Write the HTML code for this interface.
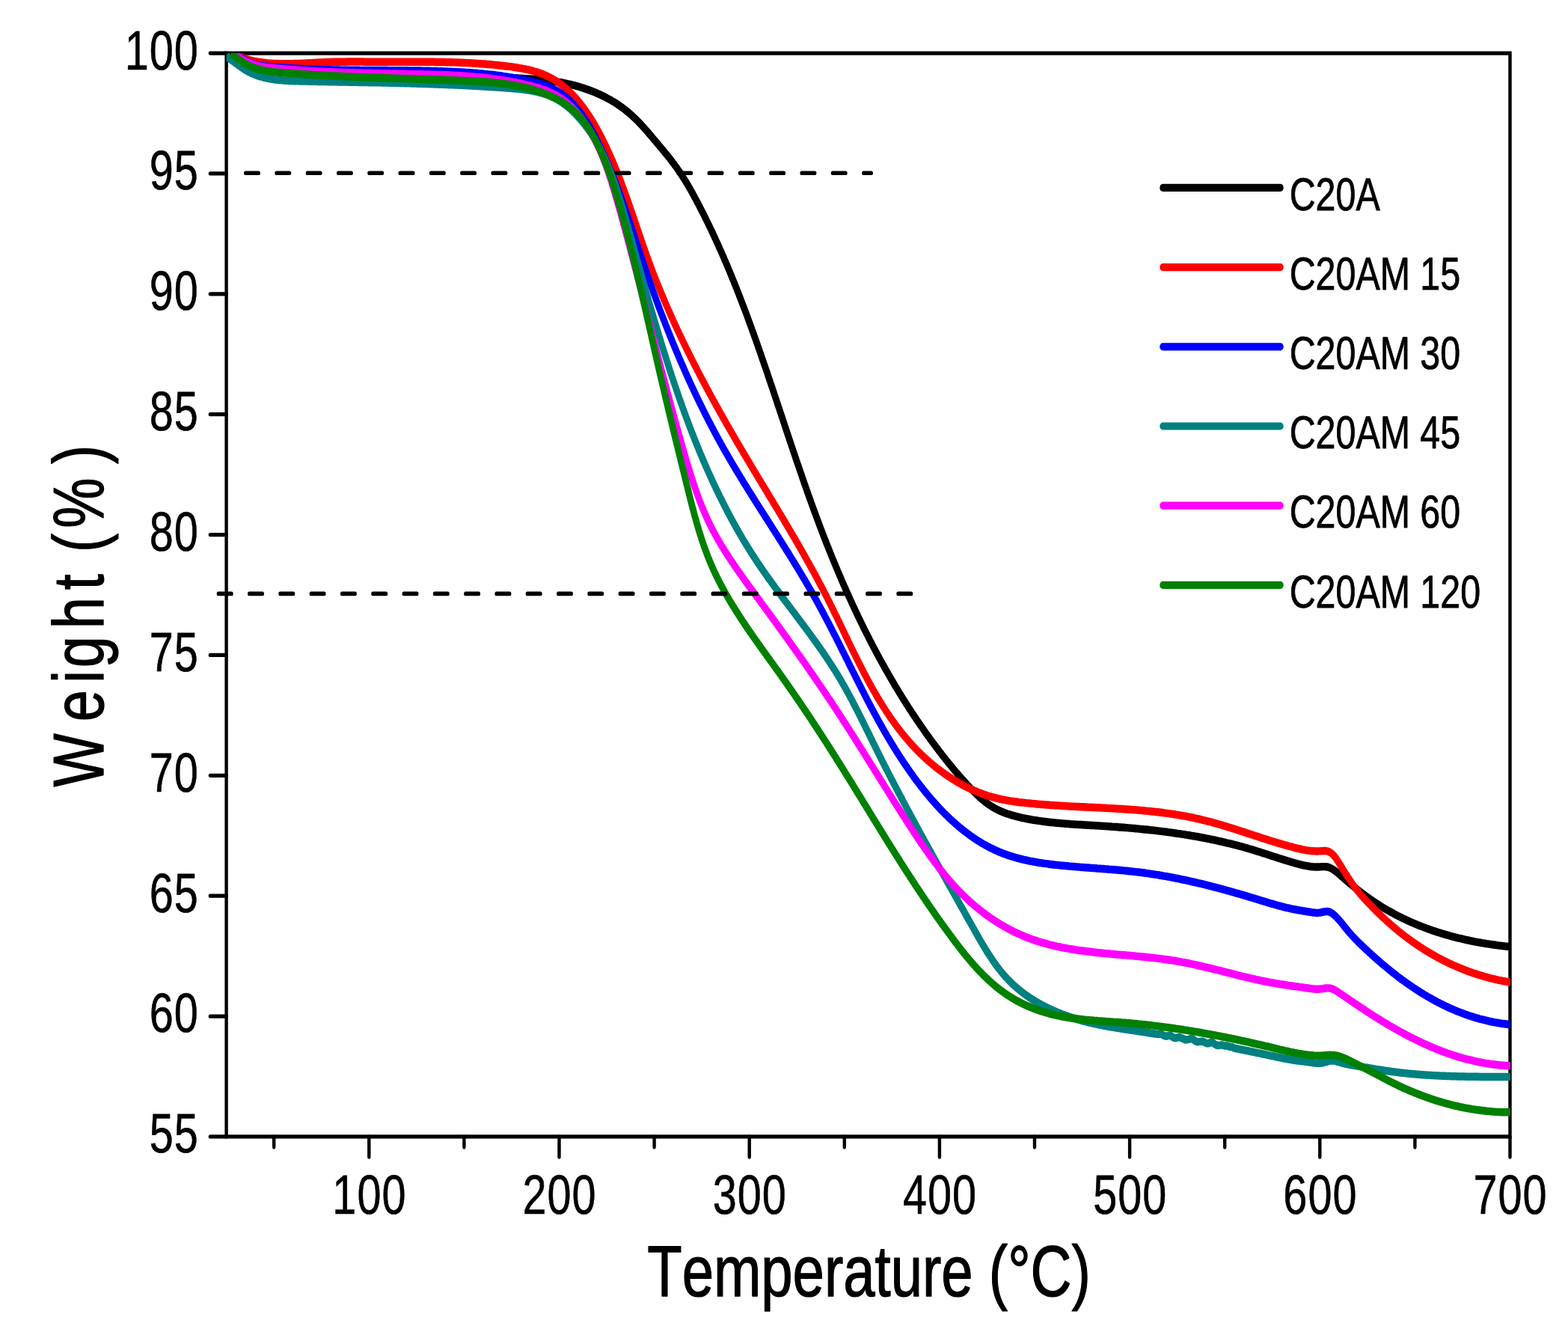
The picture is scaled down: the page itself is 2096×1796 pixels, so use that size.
<!DOCTYPE html>
<html><head><meta charset="utf-8"><title>TGA</title>
<style>html,body{margin:0;padding:0;background:#fff}svg{display:block}</style></head>
<body>
<svg width="2096" height="1796" viewBox="0 0 2096 1796" font-family="'Liberation Sans', sans-serif" fill="#000" style="font-kerning:none" text-rendering="geometricPrecision" stroke="#000" stroke-width="0" stroke-linejoin="round">
<rect width="2096" height="1796" fill="#fff"/>
<defs><clipPath id="plot"><rect x="302.6" y="59.25" width="1716.2" height="1206.50"/></clipPath></defs>
<g transform="scale(1,1.2)" fill="none" stroke="#000" stroke-linecap="round" stroke-width="4.4">
<path d="M302.6,59.25 H2018.5 V1265.75 H302.6 Z" stroke-linejoin="miter" stroke-linecap="butt"/>
<path d="M302.6,1265.75 H280.8 M302.6,1131.69 H280.8 M302.6,997.64 H280.8 M302.6,863.58 H280.8 M302.6,729.53 H280.8 M302.6,595.47 H280.8 M302.6,461.42 H280.8 M302.6,327.36 H280.8 M302.6,193.31 H280.8 M302.6,59.25 H280.8 M493.30,1265.75 V1288.50 M747.50,1265.75 V1288.50 M1001.70,1265.75 V1288.50 M1255.90,1265.75 V1288.50 M1510.10,1265.75 V1288.50 M1764.30,1265.75 V1288.50 M2018.50,1265.75 V1288.50 M366.20,1265.75 V1277.50 M620.40,1265.75 V1277.50 M874.60,1265.75 V1277.50 M1128.80,1265.75 V1277.50 M1383.00,1265.75 V1277.50 M1637.20,1265.75 V1277.50 M1891.40,1265.75 V1277.50"/>
<g clip-path="url(#plot)" stroke-linejoin="round" stroke-linecap="butt" stroke-width="8.7">
<path d="M310.9,59.5 312.6,60.6 314.2,61.6 315.9,62.6 317.6,63.5 319.3,64.5 321,65.3 322.7,66.2 324.5,67 326.2,67.7 328,68.4 329.8,69.1 331.6,69.8 333.4,70.4 335.2,71 337,71.6 338.9,72.1 340.8,72.7 342.6,73.1 344.5,73.6 346.4,74 348.3,74.4 350.2,74.8 352.1,75.2 354.1,75.5 356,75.8 357.9,76.1 359.9,76.4 361.9,76.7 363.8,76.9 365.8,77.1 367.8,77.3 369.8,77.5 371.8,77.7 373.8,77.8 375.8,78 377.8,78.1 379.8,78.2 381.8,78.4 383.8,78.5 385.8,78.5 387.9,78.6 389.9,78.7 391.9,78.8 393.9,78.8 396,78.9 398,79 400,79 402.1,79.1 404.1,79.1 406.1,79.2 408.1,79.2 410.2,79.3 412.2,79.3 414.2,79.3 416.2,79.4 418.3,79.4 420.3,79.5 422.3,79.5 424.3,79.6 426.4,79.6 428.4,79.7 430.4,79.7 432.4,79.8 434.4,79.8 436.4,79.9 438.5,79.9 440.5,80 442.5,80 444.5,80.1 446.5,80.1 448.5,80.2 450.5,80.2 452.5,80.3 454.6,80.3 456.6,80.4 458.6,80.4 460.6,80.5 462.6,80.5 464.6,80.6 466.6,80.6 468.6,80.7 470.6,80.7 472.6,80.8 474.6,80.8 476.6,80.9 478.6,80.9 480.6,81 482.6,81 484.6,81.1 486.6,81.1 488.6,81.2 490.6,81.2 492.6,81.3 494.6,81.3 496.6,81.4 498.6,81.4 500.6,81.5 502.6,81.5 504.6,81.6 506.6,81.6 508.6,81.7 510.6,81.7 512.6,81.8 514.5,81.8 516.5,81.9 518.5,81.9 520.5,82 522.5,82 524.5,82.1 526.5,82.1 528.5,82.2 530.5,82.2 532.5,82.3 534.5,82.3 536.5,82.4 538.4,82.4 540.4,82.5 542.4,82.5 544.4,82.6 546.4,82.7 548.4,82.7 550.4,82.8 552.4,82.8 554.4,82.9 556.3,82.9 558.3,83 560.3,83 562.3,83.1 564.3,83.1 566.3,83.2 568.3,83.3 570.3,83.3 572.3,83.4 574.2,83.4 576.2,83.5 578.2,83.5 580.2,83.6 582.2,83.6 584.2,83.7 586.2,83.8 588.2,83.8 590.2,83.9 592.1,83.9 594.1,84 596.1,84 598.1,84.1 600.1,84.2 602.1,84.2 604.1,84.3 606.1,84.3 608.1,84.4 610.1,84.5 612.1,84.5 614,84.6 616,84.6 618,84.7 620,84.8 622,84.8 624,84.9 626,84.9 628,85 630,85.1 632,85.1 634,85.2 636,85.2 638,85.3 640,85.4 642,85.4 644,85.5 646,85.6 648,85.6 650,85.7 652,85.7 654,85.8 656,85.9 658,85.9 660,86 662,86.1 664,86.1 666,86.2 668,86.3 670,86.3 672,86.4 674,86.5 676,86.5 678,86.6 680,86.7 682,86.7 684,86.8 686,86.9 688,87 690,87 692.1,87.1 694.1,87.2 696.1,87.3 698.1,87.4 700.1,87.5 702.1,87.6 704.1,87.7 706.1,87.8 708.1,87.9 710.1,88 712.1,88.1 714.1,88.2 716.1,88.4 718.1,88.5 720.1,88.7 722.1,88.8 724.1,89 726.1,89.1 728.1,89.3 730.1,89.5 732.1,89.7 734.1,89.9 736,90.1 738,90.4 740,90.6 742,90.8 744,91.1 745.9,91.4 747.9,91.6 749.9,91.9 751.8,92.2 753.8,92.5 755.8,92.9 757.7,93.2 759.7,93.6 761.6,93.9 763.6,94.3 765.5,94.7 767.4,95.1 769.4,95.5 771.3,96 773.2,96.4 775.1,96.9 777.1,97.4 779,97.9 780.9,98.4 782.8,98.9 784.7,99.5 786.6,100 788.4,100.6 790.3,101.2 792.2,101.8 794,102.4 795.9,103.1 797.7,103.7 799.5,104.4 801.4,105.1 803.2,105.8 805,106.5 806.8,107.2 808.6,108 810.3,108.7 812.1,109.5 813.8,110.3 815.6,111.1 817.3,111.9 819,112.8 820.7,113.6 822.4,114.5 824.1,115.4 825.8,116.3 827.4,117.3 829,118.2 830.7,119.2 832.3,120.1 833.9,121.1 835.4,122.1 837,123.2 838.5,124.2 840.1,125.3 841.6,126.3 843.1,127.4 844.6,128.5 846,129.7 847.5,130.8 848.9,132 850.4,133.1 851.8,134.3 853.2,135.5 854.6,136.7 856,137.9 857.3,139.1 858.7,140.4 860.1,141.6 861.4,142.8 862.7,144.1 864.1,145.3 865.4,146.6 866.7,147.9 868,149.2 869.3,150.4 870.6,151.7 871.9,153 873.2,154.3 874.5,155.6 875.8,156.8 877.1,158.1 878.4,159.4 879.7,160.7 881,162 882.3,163.3 883.5,164.5 884.8,165.8 886.1,167.1 887.4,168.4 888.6,169.7 889.9,171 891.2,172.2 892.4,173.5 893.7,174.8 894.9,176.1 896.1,177.4 897.3,178.8 898.6,180.1 899.8,181.4 901,182.7 902.1,184.1 903.3,185.4 904.5,186.7 905.6,188.1 906.7,189.5 907.9,190.8 909,192.2 910.1,193.6 911.2,195 912.3,196.4 913.3,197.8 914.4,199.2 915.5,200.6 916.5,202 917.5,203.4 918.6,204.9 919.6,206.3 920.6,207.7 921.6,209.2 922.6,210.6 923.6,212.1 924.6,213.5 925.6,215 926.5,216.5 927.5,217.9 928.4,219.4 929.4,220.9 930.3,222.3 931.3,223.8 932.2,225.3 933.2,226.8 934.1,228.2 935,229.7 935.9,231.2 936.8,232.7 937.7,234.2 938.7,235.7 939.6,237.2 940.5,238.6 941.4,240.1 942.2,241.6 943.1,243.1 944,244.6 944.9,246.1 945.8,247.6 946.7,249.1 947.5,250.6 948.4,252.1 949.3,253.6 950.1,255.1 951,256.6 951.8,258.1 952.7,259.6 953.5,261.1 954.4,262.6 955.2,264.2 956.1,265.7 956.9,267.2 957.7,268.7 958.5,270.2 959.4,271.7 960.2,273.2 961,274.8 961.8,276.3 962.6,277.8 963.5,279.3 964.3,280.8 965.1,282.4 965.9,283.9 966.7,285.4 967.5,286.9 968.2,288.5 969,290 969.8,291.5 970.6,293 971.4,294.6 972.2,296.1 972.9,297.6 973.7,299.2 974.5,300.7 975.3,302.2 976,303.8 976.8,305.3 977.5,306.8 978.3,308.4 979,309.9 979.8,311.5 980.6,313 981.3,314.5 982,316.1 982.8,317.6 983.5,319.2 984.3,320.7 985,322.3 985.7,323.8 986.5,325.4 987.2,326.9 987.9,328.5 988.6,330 989.4,331.6 990.1,333.1 990.8,334.7 991.5,336.2 992.2,337.8 992.9,339.3 993.7,340.9 994.4,342.4 995.1,344 995.8,345.5 996.5,347.1 997.2,348.6 997.9,350.2 998.6,351.8 999.3,353.3 1000,354.9 1000.6,356.4 1001.3,358 1002,359.6 1002.7,361.1 1003.4,362.7 1004.1,364.3 1004.8,365.8 1005.4,367.4 1006.1,368.9 1006.8,370.5 1007.5,372.1 1008.1,373.6 1008.8,375.2 1009.5,376.8 1010.2,378.3 1010.8,379.9 1011.5,381.5 1012.2,383.1 1012.8,384.6 1013.5,386.2 1014.1,387.8 1014.8,389.3 1015.5,390.9 1016.1,392.5 1016.8,394.1 1017.4,395.6 1018.1,397.2 1018.7,398.8 1019.4,400.4 1020,401.9 1020.7,403.5 1021.3,405.1 1022,406.7 1022.6,408.2 1023.3,409.8 1023.9,411.4 1024.6,413 1025.2,414.5 1025.9,416.1 1026.5,417.7 1027.1,419.3 1027.8,420.8 1028.4,422.4 1029.1,424 1029.7,425.6 1030.3,427.2 1031,428.7 1031.6,430.3 1032.3,431.9 1032.9,433.5 1033.5,435.1 1034.2,436.6 1034.8,438.2 1035.4,439.8 1036.1,441.4 1036.7,443 1037.3,444.5 1038,446.1 1038.6,447.7 1039.2,449.3 1039.9,450.9 1040.5,452.5 1041.1,454 1041.8,455.6 1042.4,457.2 1043,458.8 1043.7,460.4 1044.3,461.9 1044.9,463.5 1045.6,465.1 1046.2,466.7 1046.8,468.3 1047.5,469.9 1048.1,471.4 1048.7,473 1049.3,474.6 1050,476.2 1050.6,477.8 1051.2,479.4 1051.9,480.9 1052.5,482.5 1053.1,484.1 1053.8,485.7 1054.4,487.3 1055,488.8 1055.7,490.4 1056.3,492 1057,493.6 1057.6,495.2 1058.2,496.8 1058.9,498.3 1059.5,499.9 1060.1,501.5 1060.8,503.1 1061.4,504.7 1062.1,506.2 1062.7,507.8 1063.3,509.4 1064,511 1064.6,512.6 1065.3,514.1 1065.9,515.7 1066.6,517.3 1067.2,518.9 1067.9,520.5 1068.5,522 1069.2,523.6 1069.8,525.2 1070.5,526.8 1071.1,528.3 1071.8,529.9 1072.4,531.5 1073.1,533.1 1073.7,534.6 1074.4,536.2 1075,537.8 1075.7,539.4 1076.4,540.9 1077,542.5 1077.7,544.1 1078.4,545.7 1079,547.2 1079.7,548.8 1080.4,550.4 1081,552 1081.7,553.5 1082.4,555.1 1083.1,556.7 1083.7,558.2 1084.4,559.8 1085.1,561.4 1085.8,562.9 1086.5,564.5 1087.1,566.1 1087.8,567.6 1088.5,569.2 1089.2,570.8 1089.9,572.3 1090.6,573.9 1091.3,575.5 1092,577 1092.7,578.6 1093.4,580.2 1094.1,581.7 1094.8,583.3 1095.5,584.9 1096.2,586.4 1096.9,588 1097.6,589.5 1098.3,591.1 1099,592.6 1099.8,594.2 1100.5,595.8 1101.2,597.3 1101.9,598.9 1102.7,600.4 1103.4,602 1104.1,603.5 1104.8,605.1 1105.6,606.6 1106.3,608.2 1107.1,609.7 1107.8,611.3 1108.5,612.8 1109.3,614.4 1110,615.9 1110.8,617.5 1111.5,619 1112.3,620.6 1113,622.1 1113.8,623.7 1114.6,625.2 1115.3,626.7 1116.1,628.3 1116.9,629.8 1117.6,631.4 1118.4,632.9 1119.2,634.4 1119.9,636 1120.7,637.5 1121.5,639 1122.3,640.6 1123.1,642.1 1123.9,643.6 1124.6,645.2 1125.4,646.7 1126.2,648.2 1127,649.8 1127.8,651.3 1128.6,652.8 1129.4,654.3 1130.3,655.9 1131.1,657.4 1131.9,658.9 1132.7,660.4 1133.5,662 1134.3,663.5 1135.2,665 1136,666.5 1136.8,668 1137.6,669.5 1138.5,671.1 1139.3,672.6 1140.1,674.1 1141,675.6 1141.8,677.1 1142.7,678.6 1143.5,680.1 1144.4,681.6 1145.2,683.1 1146.1,684.6 1146.9,686.1 1147.8,687.6 1148.7,689.1 1149.5,690.6 1150.4,692.1 1151.3,693.6 1152.2,695.1 1153,696.6 1153.9,698.1 1154.8,699.6 1155.7,701.1 1156.6,702.6 1157.5,704.1 1158.4,705.6 1159.3,707 1160.2,708.5 1161.1,710 1162,711.5 1162.9,713 1163.8,714.5 1164.7,715.9 1165.7,717.4 1166.6,718.9 1167.5,720.4 1168.4,721.8 1169.4,723.3 1170.3,724.8 1171.2,726.2 1172.2,727.7 1173.1,729.2 1174.1,730.6 1175,732.1 1176,733.6 1176.9,735 1177.9,736.5 1178.9,737.9 1179.8,739.4 1180.8,740.8 1181.8,742.3 1182.7,743.7 1183.7,745.2 1184.7,746.6 1185.7,748.1 1186.7,749.5 1187.7,751 1188.7,752.4 1189.7,753.8 1190.7,755.3 1191.7,756.7 1192.7,758.2 1193.7,759.6 1194.7,761 1195.7,762.5 1196.7,763.9 1197.8,765.3 1198.8,766.7 1199.8,768.2 1200.9,769.6 1201.9,771 1202.9,772.4 1204,773.8 1205,775.2 1206.1,776.7 1207.1,778.1 1208.2,779.5 1209.3,780.9 1210.3,782.3 1211.4,783.7 1212.5,785.1 1213.5,786.5 1214.6,787.9 1215.7,789.3 1216.8,790.7 1217.9,792.1 1219,793.5 1220.1,794.9 1221.2,796.3 1222.3,797.6 1223.4,799 1224.5,800.4 1225.6,801.8 1226.8,803.2 1227.9,804.5 1229,805.9 1230.1,807.3 1231.3,808.7 1232.4,810 1233.6,811.4 1234.7,812.8 1235.9,814.1 1237,815.5 1238.2,816.9 1239.3,818.2 1240.5,819.6 1241.7,820.9 1242.8,822.3 1244,823.6 1245.2,825 1246.4,826.3 1247.6,827.7 1248.8,829 1250,830.3 1251.2,831.7 1252.4,833 1253.6,834.3 1254.8,835.7 1256,837 1257.2,838.3 1258.5,839.7 1259.7,841 1260.9,842.3 1262.2,843.6 1263.4,844.9 1264.7,846.2 1265.9,847.5 1267.2,848.8 1268.4,850.2 1269.7,851.4 1271,852.7 1272.2,854 1273.5,855.3 1274.8,856.6 1276.1,857.9 1277.4,859.2 1278.7,860.4 1280,861.7 1281.3,863 1282.6,864.2 1284,865.5 1285.3,866.8 1286.6,868 1288,869.2 1289.3,870.5 1290.7,871.7 1292,873 1293.4,874.2 1294.7,875.4 1296.1,876.6 1297.5,877.8 1298.9,879 1300.3,880.2 1301.7,881.4 1303.1,882.6 1304.5,883.8 1305.9,885 1307.4,886.1 1308.8,887.2 1310.3,888.4 1311.8,889.5 1313.3,890.5 1314.8,891.6 1316.4,892.6 1317.9,893.6 1319.5,894.6 1321.1,895.6 1322.7,896.5 1324.3,897.4 1326,898.3 1327.7,899.1 1329.4,900 1331.1,900.7 1332.9,901.5 1334.6,902.2 1336.4,902.9 1338.2,903.6 1340.1,904.2 1341.9,904.8 1343.8,905.4 1345.7,906 1347.5,906.5 1349.5,907 1351.4,907.5 1353.3,908 1355.2,908.5 1357.2,908.9 1359.1,909.3 1361.1,909.7 1363.1,910.1 1365,910.5 1367,910.9 1369,911.2 1371,911.6 1373,911.9 1375,912.2 1377,912.5 1379,912.8 1380.9,913.1 1382.9,913.3 1384.9,913.6 1386.9,913.8 1388.9,914.1 1390.9,914.3 1392.9,914.6 1394.9,914.8 1396.9,915 1398.8,915.2 1400.8,915.4 1402.8,915.6 1404.8,915.8 1406.8,915.9 1408.8,916.1 1410.8,916.3 1412.8,916.4 1414.8,916.6 1416.7,916.7 1418.7,916.9 1420.7,917 1422.7,917.2 1424.7,917.3 1426.7,917.4 1428.7,917.5 1430.7,917.7 1432.7,917.8 1434.6,917.9 1436.6,918 1438.6,918.1 1440.6,918.2 1442.6,918.3 1444.6,918.4 1446.6,918.5 1448.6,918.6 1450.6,918.7 1452.5,918.8 1454.5,918.9 1456.5,919 1458.5,919.1 1460.5,919.2 1462.5,919.3 1464.5,919.4 1466.5,919.5 1468.5,919.6 1470.5,919.7 1472.5,919.8 1474.5,919.9 1476.4,920 1478.4,920.1 1480.4,920.2 1482.4,920.3 1484.4,920.4 1486.4,920.6 1488.4,920.7 1490.4,920.8 1492.4,920.9 1494.4,921 1496.4,921.2 1498.4,921.3 1500.4,921.4 1502.4,921.5 1504.3,921.7 1506.3,921.8 1508.3,922 1510.3,922.1 1512.3,922.2 1514.3,922.4 1516.3,922.5 1518.3,922.7 1520.3,922.8 1522.3,923 1524.3,923.2 1526.3,923.3 1528.2,923.5 1530.2,923.7 1532.2,923.8 1534.2,924 1536.2,924.2 1538.2,924.4 1540.2,924.5 1542.2,924.7 1544.2,924.9 1546.1,925.1 1548.1,925.3 1550.1,925.5 1552.1,925.7 1554.1,925.9 1556.1,926.1 1558.1,926.3 1560,926.5 1562,926.8 1564,927 1566,927.2 1568,927.4 1569.9,927.7 1571.9,927.9 1573.9,928.2 1575.9,928.4 1577.9,928.6 1579.8,928.9 1581.8,929.1 1583.8,929.4 1585.8,929.7 1587.7,929.9 1589.7,930.2 1591.7,930.5 1593.7,930.8 1595.6,931 1597.6,931.3 1599.6,931.6 1601.5,931.9 1603.5,932.2 1605.5,932.5 1607.4,932.8 1609.4,933.1 1611.3,933.5 1613.3,933.8 1615.3,934.1 1617.2,934.4 1619.2,934.8 1621.1,935.1 1623.1,935.4 1625,935.8 1627,936.1 1629,936.5 1630.9,936.9 1632.8,937.2 1634.8,937.6 1636.7,938 1638.7,938.4 1640.6,938.8 1642.6,939.1 1644.5,939.5 1646.5,939.9 1648.4,940.3 1650.3,940.8 1652.3,941.2 1654.2,941.6 1656.1,942 1658.1,942.5 1660,942.9 1661.9,943.3 1663.8,943.8 1665.8,944.2 1667.7,944.7 1669.6,945.2 1671.5,945.6 1673.5,946.1 1675.4,946.6 1677.3,947.1 1679.2,947.6 1681.1,948.1 1683,948.6 1684.9,949.1 1686.8,949.6 1688.7,950.1 1690.7,950.6 1692.6,951.1 1694.5,951.6 1696.4,952.2 1698.3,952.7 1700.2,953.2 1702.1,953.7 1704,954.2 1705.9,954.7 1707.8,955.2 1709.7,955.8 1711.6,956.3 1713.6,956.8 1715.5,957.3 1717.4,957.8 1719.3,958.3 1721.2,958.7 1723.1,959.2 1725.1,959.7 1727,960.2 1728.9,960.6 1730.8,961.1 1732.8,961.5 1734.7,962 1736.6,962.4 1738.6,962.8 1740.5,963.2 1742.5,963.6 1744.4,963.9 1746.4,964.2 1748.4,964.5 1750.3,964.8 1752.3,965 1754.3,965.2 1756.3,965.3 1758.3,965.4 1760.3,965.4 1762.3,965.4 1764.3,965.3 1766.3,965.2 1768.4,965.1 1770.3,965.1 1772.3,965.2 1774.1,965.4 1776,965.8 1777.7,966.4 1779.5,967 1781.2,967.8 1782.8,968.7 1784.4,969.6 1786,970.6 1787.6,971.7 1789.1,972.8 1790.7,973.9 1792.2,975.1 1793.7,976.2 1795.3,977.3 1796.8,978.5 1798.3,979.6 1799.8,980.7 1801.4,981.7 1802.9,982.8 1804.4,983.9 1806,984.9 1807.5,986 1809.1,987 1810.6,988.1 1812.2,989.1 1813.7,990.2 1815.3,991.2 1816.9,992.2 1818.4,993.2 1820,994.2 1821.6,995.2 1823.2,996.2 1824.8,997.2 1826.4,998.2 1828.1,999.2 1829.7,1000.2 1831.3,1001.1 1833,1002.1 1834.6,1003 1836.3,1004 1837.9,1004.9 1839.6,1005.8 1841.3,1006.7 1842.9,1007.6 1844.6,1008.5 1846.3,1009.4 1848,1010.3 1849.7,1011.2 1851.4,1012 1853.2,1012.9 1854.9,1013.7 1856.6,1014.5 1858.4,1015.3 1860.1,1016.1 1861.9,1016.9 1863.6,1017.7 1865.4,1018.5 1867.1,1019.3 1868.9,1020 1870.7,1020.8 1872.5,1021.5 1874.3,1022.3 1876.1,1023 1877.9,1023.7 1879.7,1024.4 1881.5,1025.1 1883.3,1025.8 1885.2,1026.5 1887,1027.2 1888.8,1027.8 1890.7,1028.5 1892.5,1029.1 1894.4,1029.8 1896.2,1030.4 1898.1,1031 1899.9,1031.6 1901.8,1032.2 1903.7,1032.8 1905.6,1033.4 1907.4,1034 1909.3,1034.5 1911.2,1035.1 1913.1,1035.7 1915,1036.2 1916.9,1036.7 1918.8,1037.3 1920.7,1037.8 1922.6,1038.3 1924.5,1038.8 1926.4,1039.3 1928.4,1039.8 1930.3,1040.3 1932.2,1040.7 1934.1,1041.2 1936.1,1041.6 1938,1042.1 1939.9,1042.5 1941.9,1043 1943.8,1043.4 1945.8,1043.8 1947.7,1044.2 1949.6,1044.6 1951.6,1045 1953.5,1045.4 1955.5,1045.8 1957.5,1046.2 1959.4,1046.5 1961.4,1046.9 1963.3,1047.2 1965.3,1047.6 1967.3,1047.9 1969.2,1048.2 1971.2,1048.6 1973.2,1048.9 1975.1,1049.2 1977.1,1049.5 1979.1,1049.8 1981,1050.1 1983,1050.3 1985,1050.6 1986.9,1050.9 1988.9,1051.1 1990.9,1051.4 1992.9,1051.6 1994.8,1051.9 1996.8,1052.1 1998.8,1052.3 2000.8,1052.6 2002.7,1052.8 2004.7,1053 2006.7,1053.2 2008.6,1053.4 2010.6,1053.6 2012.6,1053.8 2014.6,1053.9 2016.5,1054.1 2018.5,1054.3 2018.5,1054.3 2020.5,1054.3" stroke="#000000"/>
<path d="M311,59.3 312.8,59.9 314.7,60.6 316.5,61.2 318.3,61.9 320.1,62.6 322,63.3 323.8,64 325.6,64.6 327.5,65.2 329.4,65.8 331.3,66.3 333.2,66.8 335.1,67.2 337.1,67.6 339,68 341,68.3 343,68.6 345,68.9 347,69.2 348.9,69.4 350.9,69.6 352.9,69.8 354.9,70 356.9,70.2 358.9,70.3 360.9,70.5 362.9,70.6 364.8,70.7 366.8,70.8 368.8,70.9 370.8,70.9 372.8,71 374.8,71 376.8,71 378.8,71.1 380.7,71.1 382.7,71.1 384.7,71.1 386.7,71 388.7,71 390.7,71 392.7,70.9 394.7,70.9 396.7,70.8 398.6,70.8 400.6,70.7 402.6,70.6 404.6,70.5 406.6,70.5 408.6,70.4 410.6,70.3 412.6,70.2 414.6,70.1 416.6,70.1 418.6,70 420.6,69.9 422.6,69.8 424.6,69.7 426.6,69.6 428.6,69.6 430.6,69.5 432.6,69.4 434.6,69.4 436.6,69.3 438.6,69.2 440.6,69.2 442.6,69.1 444.6,69.1 446.6,69 448.7,69 450.7,69 452.7,69 454.7,68.9 456.7,68.9 458.7,68.9 460.7,68.9 462.7,68.9 464.8,68.8 466.8,68.8 468.8,68.8 470.8,68.8 472.8,68.8 474.8,68.8 476.9,68.8 478.9,68.8 480.9,68.8 482.9,68.8 484.9,68.8 486.9,68.9 488.9,68.9 490.9,68.9 492.9,68.9 495,68.9 497,68.9 499,68.9 501,68.9 503,68.9 505,68.9 507,68.9 509,68.9 511,68.9 513,68.9 515,68.9 517,68.9 519,68.9 521,68.9 523,68.9 525,68.9 527,68.9 528.9,68.9 530.9,68.9 532.9,68.9 534.9,68.9 536.9,68.9 538.9,68.9 540.9,68.9 542.9,68.9 544.8,68.9 546.8,68.9 548.8,68.9 550.8,68.9 552.8,68.9 554.8,68.9 556.7,68.9 558.7,68.9 560.7,68.9 562.7,68.9 564.7,68.9 566.6,68.9 568.6,68.9 570.6,69 572.6,69 574.6,69 576.6,69 578.5,69 580.5,69 582.5,69.1 584.5,69.1 586.5,69.1 588.4,69.1 590.4,69.2 592.4,69.2 594.4,69.2 596.4,69.3 598.4,69.3 600.3,69.3 602.3,69.4 604.3,69.4 606.3,69.5 608.3,69.5 610.3,69.6 612.3,69.6 614.2,69.7 616.2,69.8 618.2,69.8 620.2,69.9 622.2,70 624.2,70.1 626.2,70.1 628.2,70.2 630.2,70.3 632.2,70.4 634.2,70.5 636.2,70.6 638.2,70.7 640.2,70.8 642.2,71 644.2,71.1 646.2,71.2 648.2,71.3 650.2,71.5 652.3,71.6 654.3,71.7 656.3,71.9 658.3,72 660.3,72.2 662.4,72.4 664.4,72.5 666.4,72.7 668.4,72.9 670.5,73.1 672.5,73.3 674.5,73.5 676.6,73.7 678.6,73.9 680.6,74.1 682.7,74.3 684.7,74.5 686.7,74.8 688.8,75 690.8,75.3 692.8,75.6 694.9,75.9 696.9,76.2 698.9,76.5 700.9,76.8 702.9,77.1 704.9,77.5 706.8,77.9 708.8,78.3 710.8,78.7 712.7,79.1 714.6,79.6 716.6,80 718.5,80.5 720.3,81 722.2,81.6 724.1,82.1 725.9,82.7 727.7,83.4 729.5,84 731.3,84.7 733,85.4 734.8,86.1 736.5,86.8 738.2,87.6 739.9,88.4 741.5,89.2 743.2,90.1 744.8,91 746.4,91.9 748,92.8 749.5,93.7 751.1,94.7 752.6,95.7 754.1,96.7 755.6,97.7 757.1,98.8 758.5,99.9 760,101 761.4,102.1 762.8,103.2 764.2,104.4 765.5,105.5 766.9,106.7 768.2,107.9 769.6,109.1 770.9,110.4 772.2,111.6 773.4,112.9 774.7,114.2 775.9,115.5 777.2,116.8 778.4,118.1 779.6,119.4 780.8,120.8 782,122.1 783.1,123.5 784.3,124.9 785.4,126.3 786.5,127.7 787.6,129.1 788.7,130.5 789.8,131.9 790.9,133.4 792,134.8 793,136.3 794.1,137.7 795.1,139.2 796.1,140.7 797.1,142.2 798.1,143.6 799.1,145.1 800.1,146.6 801,148.1 802,149.6 802.9,151.1 803.9,152.6 804.8,154.1 805.7,155.7 806.6,157.2 807.5,158.7 808.4,160.2 809.3,161.7 810.2,163.2 811,164.8 811.9,166.3 812.7,167.8 813.6,169.3 814.4,170.9 815.2,172.4 816.1,173.9 816.9,175.4 817.7,177 818.5,178.5 819.3,180.1 820.1,181.6 820.8,183.1 821.6,184.7 822.4,186.2 823.1,187.8 823.9,189.3 824.6,190.9 825.4,192.4 826.1,193.9 826.9,195.5 827.6,197 828.3,198.6 829,200.2 829.7,201.7 830.4,203.3 831.1,204.8 831.8,206.4 832.5,207.9 833.2,209.5 833.9,211.1 834.6,212.6 835.3,214.2 836,215.7 836.6,217.3 837.3,218.9 838,220.4 838.6,222 839.3,223.6 839.9,225.1 840.6,226.7 841.3,228.3 841.9,229.8 842.6,231.4 843.2,233 843.9,234.5 844.5,236.1 845.1,237.7 845.8,239.2 846.4,240.8 847.1,242.4 847.7,243.9 848.3,245.5 849,247.1 849.6,248.6 850.3,250.2 850.9,251.8 851.5,253.4 852.2,254.9 852.8,256.5 853.4,258.1 854.1,259.6 854.7,261.2 855.4,262.8 856,264.3 856.7,265.9 857.3,267.5 857.9,269 858.6,270.6 859.2,272.2 859.9,273.7 860.5,275.3 861.2,276.9 861.9,278.4 862.5,280 863.2,281.6 863.9,283.1 864.5,284.7 865.2,286.2 865.9,287.8 866.6,289.4 867.2,290.9 867.9,292.5 868.6,294 869.3,295.6 870,297.1 870.7,298.7 871.4,300.2 872.1,301.8 872.8,303.3 873.5,304.9 874.3,306.4 875,308 875.7,309.5 876.4,311.1 877.2,312.6 877.9,314.2 878.7,315.7 879.4,317.3 880.2,318.8 880.9,320.3 881.7,321.9 882.4,323.4 883.2,325 883.9,326.5 884.7,328 885.5,329.6 886.3,331.1 887,332.6 887.8,334.2 888.6,335.7 889.4,337.2 890.2,338.8 891,340.3 891.8,341.8 892.6,343.3 893.4,344.9 894.2,346.4 895,347.9 895.8,349.4 896.6,351 897.4,352.5 898.3,354 899.1,355.5 899.9,357 900.7,358.6 901.6,360.1 902.4,361.6 903.2,363.1 904.1,364.6 904.9,366.1 905.8,367.7 906.6,369.2 907.5,370.7 908.3,372.2 909.2,373.7 910.1,375.2 910.9,376.7 911.8,378.2 912.7,379.7 913.5,381.2 914.4,382.7 915.3,384.2 916.2,385.7 917,387.2 917.9,388.7 918.8,390.2 919.7,391.7 920.6,393.2 921.5,394.7 922.4,396.2 923.3,397.7 924.2,399.2 925.1,400.7 926,402.2 926.9,403.7 927.8,405.2 928.7,406.7 929.6,408.2 930.6,409.6 931.5,411.1 932.4,412.6 933.3,414.1 934.2,415.6 935.2,417.1 936.1,418.6 937,420 938,421.5 938.9,423 939.8,424.5 940.8,426 941.7,427.4 942.7,428.9 943.6,430.4 944.6,431.9 945.5,433.3 946.5,434.8 947.4,436.3 948.4,437.8 949.3,439.2 950.3,440.7 951.2,442.2 952.2,443.6 953.2,445.1 954.1,446.6 955.1,448 956.1,449.5 957,451 958,452.4 959,453.9 960,455.3 960.9,456.8 961.9,458.3 962.9,459.7 963.9,461.2 964.9,462.6 965.9,464.1 966.8,465.5 967.8,467 968.8,468.4 969.8,469.9 970.8,471.4 971.8,472.8 972.8,474.3 973.8,475.7 974.8,477.1 975.8,478.6 976.8,480 977.8,481.5 978.8,482.9 979.8,484.4 980.8,485.8 981.8,487.3 982.8,488.7 983.8,490.1 984.8,491.6 985.8,493 986.8,494.5 987.8,495.9 988.9,497.3 989.9,498.8 990.9,500.2 991.9,501.6 992.9,503.1 993.9,504.5 995,505.9 996,507.4 997,508.8 998,510.2 999,511.6 1000.1,513.1 1001.1,514.5 1002.1,515.9 1003.1,517.3 1004.1,518.8 1005.2,520.2 1006.2,521.6 1007.2,523 1008.2,524.5 1009.3,525.9 1010.3,527.3 1011.3,528.7 1012.4,530.2 1013.4,531.6 1014.4,533 1015.4,534.4 1016.5,535.8 1017.5,537.3 1018.5,538.7 1019.6,540.1 1020.6,541.5 1021.6,542.9 1022.6,544.3 1023.7,545.8 1024.7,547.2 1025.7,548.6 1026.7,550 1027.8,551.4 1028.8,552.9 1029.8,554.3 1030.9,555.7 1031.9,557.1 1032.9,558.5 1033.9,560 1035,561.4 1036,562.8 1037,564.2 1038,565.6 1039.1,567 1040.1,568.5 1041.1,569.9 1042.1,571.3 1043.1,572.7 1044.2,574.2 1045.2,575.6 1046.2,577 1047.2,578.4 1048.2,579.8 1049.3,581.3 1050.3,582.7 1051.3,584.1 1052.3,585.5 1053.3,587 1054.3,588.4 1055.3,589.8 1056.3,591.2 1057.3,592.7 1058.4,594.1 1059.4,595.5 1060.4,597 1061.4,598.4 1062.4,599.8 1063.4,601.3 1064.4,602.7 1065.4,604.1 1066.4,605.6 1067.4,607 1068.4,608.4 1069.3,609.9 1070.3,611.3 1071.3,612.8 1072.3,614.2 1073.3,615.6 1074.3,617.1 1075.3,618.5 1076.2,620 1077.2,621.4 1078.2,622.9 1079.2,624.3 1080.1,625.8 1081.1,627.2 1082.1,628.7 1083,630.1 1084,631.6 1085,633.1 1085.9,634.5 1086.9,636 1087.9,637.4 1088.8,638.9 1089.8,640.4 1090.7,641.8 1091.7,643.3 1092.6,644.8 1093.5,646.2 1094.5,647.7 1095.4,649.2 1096.4,650.7 1097.3,652.1 1098.2,653.6 1099.2,655.1 1100.1,656.6 1101,658.1 1101.9,659.6 1102.8,661 1103.8,662.5 1104.7,664 1105.6,665.5 1106.5,667 1107.4,668.5 1108.3,670 1109.2,671.5 1110.1,673 1111,674.5 1111.9,676 1112.8,677.5 1113.7,679.1 1114.5,680.6 1115.4,682.1 1116.3,683.6 1117.2,685.1 1118.1,686.6 1119,688.1 1119.8,689.6 1120.7,691.2 1121.6,692.7 1122.5,694.2 1123.3,695.7 1124.2,697.2 1125.1,698.8 1126,700.3 1126.8,701.8 1127.7,703.3 1128.6,704.8 1129.5,706.4 1130.3,707.9 1131.2,709.4 1132.1,710.9 1133,712.4 1133.8,714 1134.7,715.5 1135.6,717 1136.5,718.5 1137.4,720 1138.2,721.5 1139.1,723.1 1140,724.6 1140.9,726.1 1141.8,727.6 1142.7,729.1 1143.6,730.6 1144.5,732.1 1145.4,733.6 1146.3,735.1 1147.2,736.6 1148.1,738.1 1149,739.6 1149.9,741.1 1150.8,742.6 1151.7,744.1 1152.6,745.6 1153.6,747.1 1154.5,748.6 1155.4,750.1 1156.4,751.6 1157.3,753 1158.2,754.5 1159.2,756 1160.1,757.5 1161.1,758.9 1162,760.4 1163,761.9 1164,763.3 1164.9,764.8 1165.9,766.2 1166.9,767.7 1167.9,769.1 1168.9,770.6 1169.9,772 1170.9,773.5 1171.9,774.9 1172.9,776.3 1173.9,777.8 1174.9,779.2 1176,780.6 1177,782 1178,783.4 1179.1,784.8 1180.1,786.2 1181.2,787.6 1182.3,789 1183.3,790.4 1184.4,791.8 1185.5,793.2 1186.6,794.6 1187.7,795.9 1188.8,797.3 1189.9,798.7 1191.1,800 1192.2,801.4 1193.3,802.7 1194.5,804 1195.7,805.4 1196.8,806.7 1198,808 1199.2,809.4 1200.4,810.7 1201.6,812 1202.8,813.3 1204,814.6 1205.2,815.9 1206.4,817.2 1207.7,818.4 1208.9,819.7 1210.2,821 1211.5,822.2 1212.7,823.5 1214,824.7 1215.3,826 1216.6,827.2 1218,828.4 1219.3,829.7 1220.6,830.9 1222,832.1 1223.4,833.3 1224.7,834.5 1226.1,835.7 1227.5,836.8 1228.9,838 1230.3,839.2 1231.8,840.3 1233.2,841.5 1234.6,842.6 1236.1,843.7 1237.6,844.9 1239.1,846 1240.6,847.1 1242.1,848.2 1243.6,849.3 1245.1,850.4 1246.7,851.5 1248.2,852.5 1249.8,853.6 1251.4,854.6 1252.9,855.7 1254.5,856.7 1256.2,857.7 1257.8,858.7 1259.4,859.7 1261,860.7 1262.7,861.7 1264.3,862.6 1266,863.6 1267.7,864.5 1269.4,865.5 1271.1,866.4 1272.8,867.3 1274.5,868.2 1276.2,869.1 1278,870 1279.7,870.8 1281.4,871.7 1283.2,872.5 1285,873.3 1286.7,874.1 1288.5,874.9 1290.3,875.7 1292.1,876.4 1293.9,877.2 1295.7,877.9 1297.5,878.6 1299.4,879.3 1301.2,880 1303,880.7 1304.9,881.3 1306.7,882 1308.6,882.6 1310.5,883.2 1312.3,883.8 1314.2,884.3 1316.1,884.9 1318,885.4 1319.9,886 1321.8,886.5 1323.7,886.9 1325.6,887.4 1327.5,887.9 1329.4,888.3 1331.3,888.7 1333.3,889.1 1335.2,889.5 1337.1,889.8 1339.1,890.2 1341,890.5 1343,890.8 1344.9,891.1 1346.9,891.4 1348.8,891.7 1350.8,892 1352.8,892.2 1354.7,892.5 1356.7,892.7 1358.7,892.9 1360.6,893.1 1362.6,893.4 1364.6,893.6 1366.6,893.7 1368.6,893.9 1370.5,894.1 1372.5,894.3 1374.5,894.5 1376.5,894.6 1378.5,894.8 1380.5,894.9 1382.5,895.1 1384.5,895.2 1386.4,895.4 1388.4,895.5 1390.4,895.7 1392.4,895.8 1394.4,895.9 1396.4,896.1 1398.4,896.2 1400.4,896.3 1402.4,896.4 1404.4,896.6 1406.4,896.7 1408.4,896.8 1410.4,896.9 1412.4,897 1414.4,897.1 1416.4,897.2 1418.4,897.3 1420.4,897.4 1422.4,897.5 1424.4,897.6 1426.4,897.7 1428.4,897.8 1430.4,897.9 1432.4,898 1434.4,898 1436.4,898.1 1438.5,898.2 1440.5,898.3 1442.5,898.4 1444.5,898.5 1446.5,898.5 1448.5,898.6 1450.5,898.7 1452.5,898.8 1454.5,898.9 1456.5,899 1458.5,899 1460.5,899.1 1462.5,899.2 1464.5,899.3 1466.5,899.4 1468.5,899.4 1470.6,899.5 1472.6,899.6 1474.6,899.7 1476.6,899.8 1478.6,899.9 1480.6,900 1482.6,900.1 1484.6,900.1 1486.6,900.2 1488.6,900.3 1490.6,900.4 1492.6,900.5 1494.6,900.6 1496.6,900.7 1498.6,900.8 1500.6,900.9 1502.6,901 1504.6,901.2 1506.6,901.3 1508.6,901.4 1510.6,901.5 1512.6,901.6 1514.6,901.8 1516.6,901.9 1518.6,902 1520.6,902.1 1522.6,902.3 1524.6,902.4 1526.6,902.6 1528.6,902.7 1530.5,902.9 1532.5,903 1534.5,903.2 1536.5,903.4 1538.5,903.5 1540.5,903.7 1542.5,903.9 1544.5,904.1 1546.4,904.2 1548.4,904.4 1550.4,904.6 1552.4,904.8 1554.4,905 1556.3,905.3 1558.3,905.5 1560.3,905.7 1562.3,905.9 1564.2,906.2 1566.2,906.4 1568.2,906.6 1570.1,906.9 1572.1,907.2 1574.1,907.4 1576,907.7 1578,908 1579.9,908.3 1581.9,908.5 1583.9,908.8 1585.8,909.1 1587.8,909.5 1589.7,909.8 1591.7,910.1 1593.6,910.4 1595.6,910.8 1597.5,911.1 1599.5,911.5 1601.4,911.8 1603.3,912.2 1605.3,912.6 1607.2,913 1609.1,913.4 1611.1,913.8 1613,914.2 1614.9,914.6 1616.9,915 1618.8,915.4 1620.7,915.9 1622.6,916.3 1624.6,916.8 1626.5,917.2 1628.4,917.7 1630.3,918.1 1632.2,918.6 1634.1,919.1 1636.1,919.6 1638,920 1639.9,920.5 1641.8,921 1643.7,921.5 1645.6,922 1647.5,922.5 1649.4,923 1651.3,923.5 1653.3,924 1655.2,924.6 1657.1,925.1 1659,925.6 1660.9,926.1 1662.8,926.6 1664.7,927.1 1666.6,927.7 1668.5,928.2 1670.4,928.7 1672.3,929.2 1674.2,929.7 1676.1,930.3 1678,930.8 1679.9,931.3 1681.9,931.8 1683.8,932.3 1685.7,932.9 1687.6,933.4 1689.5,933.9 1691.4,934.4 1693.3,934.9 1695.2,935.4 1697.1,935.9 1699,936.4 1701,936.9 1702.9,937.4 1704.8,937.9 1706.7,938.4 1708.6,938.8 1710.5,939.3 1712.5,939.8 1714.4,940.3 1716.3,940.7 1718.2,941.2 1720.2,941.6 1722.1,942.1 1724,942.5 1726,942.9 1727.9,943.3 1729.8,943.8 1731.8,944.2 1733.7,944.6 1735.7,945 1737.6,945.3 1739.5,945.7 1741.5,946.1 1743.5,946.4 1745.4,946.7 1747.4,947 1749.3,947.2 1751.3,947.4 1753.3,947.6 1755.3,947.7 1757.3,947.8 1759.3,947.9 1761.3,947.9 1763.4,947.8 1765.4,947.7 1767.4,947.6 1769.5,947.5 1771.4,947.5 1773.4,947.7 1775.2,948.1 1776.9,948.7 1778.6,949.5 1780.2,950.5 1781.7,951.7 1783.1,952.9 1784.4,954.2 1785.6,955.6 1786.8,957 1787.9,958.4 1789,959.8 1790,961.2 1791.1,962.6 1792.2,964 1793.2,965.5 1794.3,966.9 1795.3,968.3 1796.4,969.7 1797.5,971.1 1798.5,972.6 1799.6,974 1800.7,975.4 1801.8,976.8 1802.9,978.2 1804,979.6 1805.1,980.9 1806.2,982.3 1807.3,983.7 1808.5,985 1809.6,986.4 1810.8,987.7 1812,989.1 1813.2,990.4 1814.4,991.7 1815.7,993 1817,994.3 1818.2,995.5 1819.5,996.8 1820.9,998.1 1822.2,999.3 1823.5,1000.5 1824.9,1001.8 1826.2,1003 1827.6,1004.2 1829,1005.4 1830.4,1006.6 1831.8,1007.8 1833.2,1009 1834.6,1010.2 1836,1011.4 1837.4,1012.6 1838.8,1013.8 1840.2,1015 1841.7,1016.1 1843.1,1017.3 1844.6,1018.4 1846,1019.6 1847.4,1020.8 1848.9,1021.9 1850.4,1023 1851.8,1024.2 1853.3,1025.3 1854.8,1026.4 1856.3,1027.5 1857.8,1028.6 1859.3,1029.7 1860.8,1030.8 1862.3,1031.9 1863.8,1033 1865.4,1034.1 1866.9,1035.1 1868.4,1036.2 1870,1037.3 1871.5,1038.3 1873.1,1039.3 1874.7,1040.4 1876.3,1041.4 1877.8,1042.4 1879.4,1043.4 1881,1044.4 1882.6,1045.4 1884.3,1046.4 1885.9,1047.4 1887.5,1048.3 1889.1,1049.3 1890.8,1050.3 1892.4,1051.2 1894.1,1052.1 1895.7,1053.1 1897.4,1054 1899.1,1054.9 1900.8,1055.8 1902.4,1056.7 1904.1,1057.6 1905.8,1058.5 1907.5,1059.3 1909.3,1060.2 1911,1061.1 1912.7,1061.9 1914.4,1062.7 1916.2,1063.6 1917.9,1064.4 1919.6,1065.2 1921.4,1066 1923.2,1066.8 1924.9,1067.6 1926.7,1068.3 1928.5,1069.1 1930.2,1069.9 1932,1070.6 1933.8,1071.3 1935.6,1072.1 1937.4,1072.8 1939.2,1073.5 1941,1074.2 1942.9,1074.9 1944.7,1075.5 1946.5,1076.2 1948.3,1076.9 1950.2,1077.5 1952,1078.2 1953.9,1078.8 1955.7,1079.4 1957.6,1080 1959.5,1080.6 1961.3,1081.2 1963.2,1081.8 1965.1,1082.4 1967,1082.9 1968.8,1083.5 1970.7,1084 1972.6,1084.5 1974.5,1085 1976.4,1085.5 1978.3,1086 1980.3,1086.5 1982.2,1087 1984.1,1087.5 1986,1087.9 1988,1088.3 1989.9,1088.8 1991.8,1089.2 1993.8,1089.6 1995.7,1090 1997.7,1090.4 1999.6,1090.8 2001.6,1091.1 2003.6,1091.5 2005.5,1091.8 2007.5,1092.1 2009.5,1092.5 2011.4,1092.8 2013.4,1093.1 2015.4,1093.3 2017.4,1093.6 2018.7,1093.8 2020.7,1093.8" stroke="#ff0000"/>
<path d="M311,59.3 312.7,60 314.5,60.8 316.3,61.6 318,62.4 319.7,63.3 321.5,64.2 323.2,65 324.9,65.9 326.7,66.7 328.4,67.5 330.2,68.3 332,69 333.8,69.7 335.7,70.3 337.5,70.8 339.4,71.3 341.3,71.8 343.2,72.1 345.2,72.5 347.1,72.8 349.1,73.1 351,73.3 353,73.6 355,73.8 357,73.9 359,74.1 361,74.3 363,74.4 365,74.5 367,74.7 369,74.8 371,75 373,75.1 375,75.2 377,75.3 379,75.4 381,75.6 383,75.7 385,75.8 387,75.9 389,76 391,76.1 393,76.2 395,76.3 397,76.4 399,76.5 401,76.5 403,76.6 405,76.7 407,76.8 409,76.9 411,76.9 413,77 415,77.1 417,77.1 419,77.2 421,77.3 423,77.3 425,77.4 427,77.4 429,77.5 431,77.5 433,77.6 435,77.6 437,77.7 439,77.7 441,77.7 443,77.8 445,77.8 447,77.9 449,77.9 451,77.9 453,77.9 455,78 457,78 459,78 461,78.1 463,78.1 465,78.1 467,78.1 469,78.1 471,78.2 473,78.2 475,78.2 477,78.2 479,78.2 481,78.2 483,78.3 485,78.3 487,78.3 489,78.3 491,78.3 493,78.3 495,78.3 497,78.3 499,78.4 501,78.4 503,78.4 505,78.4 507,78.4 509,78.4 511,78.4 513,78.4 515,78.4 517,78.4 519,78.5 521,78.5 523,78.5 525,78.5 527,78.5 529,78.5 531,78.5 533,78.5 535,78.6 537,78.6 539,78.6 541,78.6 543,78.6 545,78.6 547,78.7 549,78.7 551,78.7 553,78.7 555,78.7 557,78.8 559,78.8 561,78.8 563,78.8 565,78.9 567,78.9 569,78.9 571,79 573,79 575,79 577,79.1 579,79.1 581,79.2 583,79.2 585,79.3 587,79.3 589,79.4 591,79.4 592.9,79.5 594.9,79.5 596.9,79.6 598.9,79.7 600.9,79.7 602.9,79.8 604.9,79.9 606.9,79.9 608.9,80 610.9,80.1 612.9,80.2 614.9,80.3 616.9,80.4 618.9,80.5 620.9,80.6 622.9,80.7 624.9,80.8 626.9,80.9 628.9,81 630.9,81.1 632.9,81.3 634.8,81.4 636.8,81.5 638.8,81.7 640.8,81.8 642.8,82 644.8,82.1 646.8,82.3 648.8,82.4 650.8,82.6 652.8,82.8 654.7,83 656.7,83.1 658.7,83.3 660.7,83.5 662.7,83.7 664.7,84 666.7,84.2 668.6,84.4 670.6,84.6 672.6,84.9 674.6,85.1 676.6,85.4 678.6,85.6 680.5,85.9 682.5,86.1 684.5,86.4 686.5,86.7 688.5,87 690.4,87.3 692.4,87.6 694.4,87.9 696.4,88.2 698.3,88.6 700.3,88.9 702.3,89.3 704.3,89.6 706.2,90 708.2,90.4 710.2,90.7 712.1,91.1 714.1,91.5 716,92 718,92.4 719.9,92.9 721.8,93.3 723.8,93.8 725.7,94.3 727.6,94.9 729.4,95.4 731.3,96 733.1,96.6 735,97.3 736.8,97.9 738.6,98.6 740.3,99.4 742.1,100.1 743.8,100.9 745.5,101.7 747.2,102.6 748.8,103.5 750.5,104.4 752.1,105.4 753.6,106.4 755.2,107.4 756.7,108.4 758.2,109.5 759.7,110.6 761.2,111.7 762.6,112.9 764,114.1 765.4,115.3 766.8,116.5 768.1,117.7 769.4,119 770.7,120.2 772,121.5 773.3,122.8 774.5,124.1 775.7,125.4 776.9,126.8 778.1,128.1 779.3,129.5 780.4,130.9 781.5,132.2 782.6,133.6 783.7,135 784.8,136.4 785.9,137.9 786.9,139.3 787.9,140.7 788.9,142.2 789.9,143.6 790.9,145.1 791.9,146.5 792.9,148 793.8,149.5 794.8,150.9 795.7,152.4 796.6,153.9 797.5,155.4 798.4,156.9 799.3,158.4 800.2,159.9 801.1,161.4 802,162.9 802.8,164.4 803.7,165.9 804.5,167.4 805.4,168.9 806.2,170.4 807.1,171.9 807.9,173.5 808.7,175 809.5,176.5 810.3,178 811.1,179.6 811.9,181.1 812.7,182.6 813.5,184.1 814.3,185.7 815,187.2 815.8,188.7 816.6,190.3 817.3,191.8 818.1,193.4 818.8,194.9 819.6,196.5 820.3,198 821,199.6 821.8,201.1 822.5,202.7 823.2,204.2 823.9,205.8 824.6,207.3 825.3,208.9 826,210.4 826.7,212 827.4,213.6 828.1,215.1 828.8,216.7 829.5,218.2 830.1,219.8 830.8,221.4 831.5,222.9 832.2,224.5 832.8,226.1 833.5,227.7 834.2,229.2 834.8,230.8 835.5,232.4 836.1,234 836.8,235.5 837.4,237.1 838.1,238.7 838.7,240.3 839.4,241.8 840,243.4 840.7,245 841.3,246.6 841.9,248.1 842.6,249.7 843.2,251.3 843.8,252.9 844.5,254.5 845.1,256.1 845.7,257.6 846.4,259.2 847,260.8 847.6,262.4 848.3,264 848.9,265.5 849.5,267.1 850.1,268.7 850.8,270.3 851.4,271.9 852,273.5 852.7,275 853.3,276.6 853.9,278.2 854.6,279.8 855.2,281.4 855.8,283 856.5,284.5 857.1,286.1 857.7,287.7 858.4,289.3 859,290.9 859.7,292.4 860.3,294 860.9,295.6 861.6,297.2 862.2,298.8 862.9,300.3 863.5,301.9 864.2,303.5 864.8,305.1 865.5,306.6 866.2,308.2 866.8,309.8 867.5,311.4 868.2,312.9 868.8,314.5 869.5,316.1 870.2,317.6 870.8,319.2 871.5,320.8 872.2,322.4 872.9,323.9 873.5,325.5 874.2,327.1 874.9,328.6 875.6,330.2 876.3,331.8 877,333.3 877.6,334.9 878.3,336.4 879,338 879.7,339.6 880.4,341.1 881.1,342.7 881.8,344.3 882.5,345.8 883.2,347.4 884,348.9 884.7,350.5 885.4,352 886.1,353.6 886.8,355.1 887.5,356.7 888.3,358.3 889,359.8 889.7,361.4 890.4,362.9 891.2,364.5 891.9,366 892.6,367.6 893.4,369.1 894.1,370.7 894.8,372.2 895.6,373.7 896.3,375.3 897.1,376.8 897.8,378.4 898.6,379.9 899.3,381.5 900.1,383 900.9,384.5 901.6,386.1 902.4,387.6 903.2,389.1 903.9,390.7 904.7,392.2 905.5,393.7 906.3,395.3 907,396.8 907.8,398.3 908.6,399.9 909.4,401.4 910.2,402.9 911,404.5 911.8,406 912.6,407.5 913.4,409 914.2,410.5 915,412.1 915.8,413.6 916.6,415.1 917.4,416.6 918.2,418.1 919,419.7 919.9,421.2 920.7,422.7 921.5,424.2 922.3,425.7 923.2,427.2 924,428.7 924.8,430.2 925.7,431.8 926.5,433.3 927.4,434.8 928.2,436.3 929.1,437.8 929.9,439.3 930.8,440.8 931.6,442.3 932.5,443.8 933.4,445.3 934.2,446.8 935.1,448.3 936,449.8 936.9,451.3 937.7,452.7 938.6,454.2 939.5,455.7 940.4,457.2 941.3,458.7 942.2,460.2 943.1,461.7 944,463.2 944.9,464.6 945.8,466.1 946.7,467.6 947.6,469.1 948.5,470.5 949.5,472 950.4,473.5 951.3,475 952.2,476.4 953.2,477.9 954.1,479.4 955,480.8 956,482.3 956.9,483.8 957.9,485.2 958.8,486.7 959.8,488.2 960.7,489.6 961.7,491.1 962.7,492.5 963.6,494 964.6,495.4 965.6,496.9 966.5,498.4 967.5,499.8 968.5,501.2 969.5,502.7 970.5,504.1 971.5,505.6 972.5,507 973.5,508.5 974.5,509.9 975.5,511.3 976.5,512.8 977.5,514.2 978.5,515.7 979.5,517.1 980.5,518.5 981.6,520 982.6,521.4 983.6,522.8 984.6,524.2 985.7,525.7 986.7,527.1 987.8,528.5 988.8,529.9 989.8,531.4 990.9,532.8 991.9,534.2 993,535.6 994,537.1 995.1,538.5 996.1,539.9 997.2,541.3 998.2,542.7 999.3,544.1 1000.3,545.6 1001.4,547 1002.5,548.4 1003.5,549.8 1004.6,551.2 1005.6,552.6 1006.7,554 1007.8,555.5 1008.8,556.9 1009.9,558.3 1011,559.7 1012.1,561.1 1013.1,562.5 1014.2,563.9 1015.3,565.3 1016.4,566.7 1017.4,568.2 1018.5,569.6 1019.6,571 1020.7,572.4 1021.7,573.8 1022.8,575.2 1023.9,576.6 1025,578 1026,579.4 1027.1,580.8 1028.2,582.2 1029.3,583.6 1030.4,585.1 1031.4,586.5 1032.5,587.9 1033.6,589.3 1034.7,590.7 1035.7,592.1 1036.8,593.5 1037.9,594.9 1039,596.3 1040,597.7 1041.1,599.1 1042.2,600.6 1043.3,602 1044.3,603.4 1045.4,604.8 1046.5,606.2 1047.5,607.6 1048.6,609 1049.7,610.4 1050.7,611.9 1051.8,613.3 1052.9,614.7 1053.9,616.1 1055,617.5 1056,618.9 1057.1,620.4 1058.1,621.8 1059.2,623.2 1060.2,624.6 1061.3,626 1062.3,627.5 1063.4,628.9 1064.4,630.3 1065.5,631.7 1066.5,633.1 1067.5,634.6 1068.6,636 1069.6,637.4 1070.6,638.9 1071.7,640.3 1072.7,641.7 1073.7,643.2 1074.7,644.6 1075.8,646 1076.8,647.5 1077.8,648.9 1078.8,650.3 1079.8,651.8 1080.8,653.2 1081.8,654.7 1082.8,656.1 1083.8,657.5 1084.8,659 1085.8,660.4 1086.8,661.9 1087.7,663.3 1088.7,664.8 1089.7,666.2 1090.7,667.7 1091.6,669.1 1092.6,670.6 1093.6,672.1 1094.5,673.5 1095.5,675 1096.4,676.5 1097.4,677.9 1098.3,679.4 1099.3,680.8 1100.2,682.3 1101.2,683.8 1102.1,685.3 1103,686.7 1103.9,688.2 1104.9,689.7 1105.8,691.1 1106.7,692.6 1107.6,694.1 1108.6,695.6 1109.5,697.1 1110.4,698.5 1111.3,700 1112.2,701.5 1113.1,703 1114,704.5 1114.9,705.9 1115.9,707.4 1116.8,708.9 1117.7,710.4 1118.6,711.9 1119.5,713.4 1120.4,714.9 1121.3,716.3 1122.2,717.8 1123.1,719.3 1123.9,720.8 1124.8,722.3 1125.7,723.8 1126.6,725.3 1127.5,726.8 1128.4,728.2 1129.3,729.7 1130.2,731.2 1131.1,732.7 1132,734.2 1132.9,735.7 1133.8,737.2 1134.6,738.7 1135.5,740.2 1136.4,741.7 1137.3,743.1 1138.2,744.6 1139.1,746.1 1140,747.6 1140.9,749.1 1141.8,750.6 1142.7,752.1 1143.6,753.6 1144.5,755 1145.4,756.5 1146.3,758 1147.2,759.5 1148.1,761 1149,762.5 1149.9,764 1150.8,765.4 1151.7,766.9 1152.6,768.4 1153.5,769.9 1154.4,771.4 1155.3,772.8 1156.2,774.3 1157.2,775.8 1158.1,777.3 1159,778.8 1159.9,780.2 1160.8,781.7 1161.8,783.2 1162.7,784.7 1163.6,786.1 1164.6,787.6 1165.5,789.1 1166.5,790.5 1167.4,792 1168.3,793.5 1169.3,794.9 1170.2,796.4 1171.2,797.8 1172.2,799.3 1173.1,800.8 1174.1,802.2 1175,803.7 1176,805.1 1177,806.6 1178,808 1178.9,809.5 1179.9,810.9 1180.9,812.4 1181.9,813.8 1182.9,815.3 1183.9,816.7 1184.9,818.1 1185.9,819.6 1186.9,821 1188,822.4 1189,823.9 1190,825.3 1191,826.7 1192.1,828.2 1193.1,829.6 1194.2,831 1195.2,832.4 1196.3,833.8 1197.3,835.3 1198.4,836.7 1199.5,838.1 1200.5,839.5 1201.6,840.9 1202.7,842.3 1203.8,843.7 1204.9,845.1 1206,846.5 1207.1,847.9 1208.2,849.3 1209.3,850.7 1210.5,852 1211.6,853.4 1212.7,854.8 1213.9,856.2 1215,857.6 1216.2,858.9 1217.3,860.3 1218.5,861.7 1219.7,863 1220.9,864.4 1222,865.8 1223.2,867.1 1224.4,868.5 1225.6,869.8 1226.9,871.2 1228.1,872.5 1229.3,873.8 1230.5,875.2 1231.8,876.5 1233,877.8 1234.3,879.2 1235.6,880.5 1236.8,881.8 1238.1,883.1 1239.4,884.4 1240.7,885.7 1242,887 1243.3,888.3 1244.6,889.6 1245.9,890.9 1247.3,892.1 1248.6,893.4 1250,894.7 1251.3,895.9 1252.7,897.2 1254,898.4 1255.4,899.6 1256.8,900.9 1258.2,902.1 1259.6,903.3 1261,904.5 1262.4,905.7 1263.8,906.9 1265.3,908 1266.7,909.2 1268.1,910.4 1269.6,911.5 1271.1,912.7 1272.5,913.8 1274,914.9 1275.5,916 1277,917.2 1278.5,918.2 1280,919.3 1281.5,920.4 1283,921.5 1284.6,922.5 1286.1,923.6 1287.7,924.6 1289.2,925.6 1290.8,926.6 1292.4,927.6 1294,928.6 1295.6,929.6 1297.2,930.6 1298.8,931.5 1300.4,932.4 1302,933.4 1303.7,934.3 1305.3,935.2 1307,936.1 1308.7,936.9 1310.3,937.8 1312,938.7 1313.7,939.5 1315.4,940.3 1317.1,941.1 1318.8,941.9 1320.6,942.7 1322.3,943.4 1324,944.2 1325.8,944.9 1327.6,945.6 1329.3,946.3 1331.1,947 1332.9,947.7 1334.7,948.3 1336.5,949 1338.4,949.6 1340.2,950.2 1342,950.8 1343.9,951.3 1345.7,951.9 1347.6,952.4 1349.5,952.9 1351.4,953.5 1353.3,953.9 1355.2,954.4 1357.1,954.9 1359,955.3 1360.9,955.8 1362.8,956.2 1364.8,956.6 1366.7,957 1368.7,957.4 1370.6,957.7 1372.6,958.1 1374.6,958.4 1376.5,958.8 1378.5,959.1 1380.5,959.4 1382.5,959.7 1384.5,960 1386.4,960.3 1388.4,960.6 1390.4,960.8 1392.4,961.1 1394.4,961.3 1396.5,961.6 1398.5,961.8 1400.5,962 1402.5,962.3 1404.5,962.5 1406.5,962.7 1408.5,962.9 1410.6,963.1 1412.6,963.2 1414.6,963.4 1416.6,963.6 1418.6,963.8 1420.6,963.9 1422.7,964.1 1424.7,964.3 1426.7,964.4 1428.7,964.6 1430.7,964.7 1432.7,964.9 1434.7,965 1436.7,965.1 1438.8,965.3 1440.8,965.4 1442.8,965.5 1444.8,965.7 1446.8,965.8 1448.8,965.9 1450.8,966.1 1452.8,966.2 1454.8,966.3 1456.8,966.4 1458.8,966.6 1460.7,966.7 1462.7,966.8 1464.7,966.9 1466.7,967.1 1468.7,967.2 1470.7,967.3 1472.7,967.4 1474.7,967.5 1476.7,967.7 1478.6,967.8 1480.6,967.9 1482.6,968.1 1484.6,968.2 1486.6,968.3 1488.6,968.5 1490.5,968.6 1492.5,968.7 1494.5,968.9 1496.5,969 1498.5,969.2 1500.4,969.3 1502.4,969.5 1504.4,969.7 1506.4,969.8 1508.3,970 1510.3,970.2 1512.3,970.3 1514.3,970.5 1516.2,970.7 1518.2,970.9 1520.2,971.1 1522.2,971.3 1524.1,971.5 1526.1,971.7 1528.1,971.9 1530,972.1 1532,972.4 1534,972.6 1536,972.8 1537.9,973.1 1539.9,973.3 1541.9,973.6 1543.8,973.8 1545.8,974.1 1547.8,974.3 1549.7,974.6 1551.7,974.9 1553.7,975.2 1555.6,975.5 1557.6,975.7 1559.6,976 1561.5,976.3 1563.5,976.6 1565.5,976.9 1567.4,977.3 1569.4,977.6 1571.3,977.9 1573.3,978.2 1575.3,978.5 1577.2,978.9 1579.2,979.2 1581.1,979.6 1583.1,979.9 1585.1,980.2 1587,980.6 1589,981 1590.9,981.3 1592.9,981.7 1594.8,982.1 1596.8,982.4 1598.7,982.8 1600.7,983.2 1602.6,983.6 1604.6,983.9 1606.5,984.3 1608.5,984.7 1610.4,985.1 1612.4,985.5 1614.3,985.9 1616.3,986.3 1618.2,986.7 1620.2,987.2 1622.1,987.6 1624,988 1626,988.4 1627.9,988.8 1629.9,989.3 1631.8,989.7 1633.7,990.1 1635.7,990.6 1637.6,991 1639.5,991.5 1641.5,991.9 1643.4,992.3 1645.3,992.8 1647.2,993.2 1649.2,993.7 1651.1,994.2 1653,994.6 1655,995.1 1656.9,995.6 1658.8,996 1660.7,996.5 1662.6,997 1664.6,997.4 1666.5,997.9 1668.4,998.4 1670.3,998.9 1672.2,999.4 1674.1,999.8 1676,1000.3 1677.9,1000.8 1679.9,1001.3 1681.8,1001.8 1683.7,1002.3 1685.6,1002.8 1687.5,1003.3 1689.4,1003.7 1691.3,1004.2 1693.2,1004.7 1695.1,1005.2 1697,1005.7 1698.9,1006.1 1700.9,1006.6 1702.8,1007 1704.7,1007.5 1706.6,1007.9 1708.5,1008.4 1710.5,1008.8 1712.4,1009.2 1714.3,1009.7 1716.2,1010.1 1718.2,1010.5 1720.1,1010.9 1722.1,1011.2 1724,1011.6 1726,1012 1727.9,1012.3 1729.9,1012.6 1731.8,1012.9 1733.8,1013.3 1735.8,1013.5 1737.8,1013.8 1739.7,1014.1 1741.7,1014.4 1743.7,1014.6 1745.7,1014.9 1747.7,1015.2 1749.7,1015.4 1751.7,1015.7 1753.7,1016 1755.7,1016.2 1757.6,1016.4 1759.6,1016.6 1761.6,1016.6 1763.6,1016.4 1765.6,1016.2 1767.6,1015.8 1769.6,1015.4 1771.5,1015.1 1773.5,1014.9 1775.3,1015.1 1777.2,1015.5 1778.9,1016.2 1780.6,1017.1 1782.3,1018.1 1783.8,1019.2 1785.4,1020.4 1786.8,1021.6 1788.2,1022.8 1789.6,1024.1 1790.9,1025.4 1792.2,1026.6 1793.5,1027.9 1794.7,1029.2 1796,1030.5 1797.2,1031.9 1798.5,1033.2 1799.7,1034.4 1801,1035.7 1802.2,1037 1803.5,1038.3 1804.8,1039.5 1806.2,1040.7 1807.5,1042 1808.9,1043.2 1810.2,1044.4 1811.6,1045.6 1813,1046.8 1814.4,1048 1815.8,1049.2 1817.2,1050.3 1818.7,1051.5 1820.1,1052.7 1821.6,1053.8 1823,1055 1824.5,1056.1 1825.9,1057.3 1827.4,1058.4 1828.9,1059.5 1830.3,1060.7 1831.8,1061.8 1833.3,1062.9 1834.8,1064 1836.3,1065.2 1837.8,1066.3 1839.3,1067.4 1840.8,1068.5 1842.3,1069.6 1843.8,1070.7 1845.3,1071.8 1846.9,1072.9 1848.4,1074 1849.9,1075 1851.5,1076.1 1853,1077.2 1854.6,1078.2 1856.1,1079.3 1857.7,1080.4 1859.2,1081.4 1860.8,1082.5 1862.4,1083.5 1864,1084.5 1865.5,1085.5 1867.1,1086.6 1868.7,1087.6 1870.3,1088.6 1871.9,1089.6 1873.5,1090.6 1875.1,1091.6 1876.8,1092.6 1878.4,1093.5 1880,1094.5 1881.6,1095.5 1883.3,1096.4 1884.9,1097.4 1886.6,1098.3 1888.2,1099.2 1889.9,1100.2 1891.6,1101.1 1893.2,1102 1894.9,1102.9 1896.6,1103.8 1898.3,1104.7 1899.9,1105.6 1901.6,1106.4 1903.3,1107.3 1905,1108.2 1906.8,1109 1908.5,1109.9 1910.2,1110.7 1911.9,1111.5 1913.7,1112.3 1915.4,1113.1 1917.1,1113.9 1918.9,1114.7 1920.6,1115.5 1922.4,1116.3 1924.2,1117 1925.9,1117.8 1927.7,1118.5 1929.5,1119.2 1931.3,1120 1933.1,1120.7 1934.8,1121.4 1936.7,1122.1 1938.5,1122.8 1940.3,1123.4 1942.1,1124.1 1943.9,1124.7 1945.7,1125.4 1947.6,1126 1949.4,1126.6 1951.3,1127.2 1953.1,1127.8 1955,1128.4 1956.8,1129 1958.7,1129.6 1960.6,1130.1 1962.5,1130.7 1964.3,1131.2 1966.2,1131.7 1968.1,1132.2 1970,1132.7 1971.9,1133.2 1973.9,1133.7 1975.8,1134.1 1977.7,1134.6 1979.6,1135 1981.6,1135.4 1983.5,1135.8 1985.5,1136.2 1987.4,1136.6 1989.4,1137 1991.4,1137.4 1993.3,1137.7 1995.3,1138 1997.3,1138.4 1999.3,1138.7 2001.3,1139 2003.3,1139.2 2005.3,1139.5 2007.3,1139.8 2009.3,1140 2011.4,1140.2 2013.4,1140.4 2015.4,1140.6 2017.5,1140.8 2018.9,1140.9 2020.9,1140.9" stroke="#0000ff"/>
<path d="M302.5,60.9 303,61.7 303.5,62.4 304.1,63.1 304.7,63.7 305.3,64.3 306,64.8 306.8,65.4 307.5,65.9 308.3,66.4 309.1,66.8 309.9,67.3 310.7,67.8 311.6,68.2 312.4,68.7 313.2,69.2 314,69.7 314.8,70.2 315.7,70.7 316.5,71.2 317.3,71.7 318.1,72.2 318.9,72.7 319.7,73.2 320.5,73.7 321.4,74.2 322.2,74.7 323,75.2 323.8,75.7 324.7,76.1 325.5,76.6 326.3,77.1 327.2,77.5 328,77.9 328.9,78.4 329.7,78.8 330.6,79.2 331.5,79.6 332.3,80 333.2,80.3 334.1,80.7 335,81.1 335.8,81.4 336.7,81.8 337.6,82.1 338.5,82.4 339.4,82.7 340.4,83 341.3,83.3 342.2,83.6 343.1,83.9 344,84.2 344.9,84.4 345.9,84.7 346.8,84.9 347.7,85.2 348.7,85.4 349.6,85.6 350.6,85.8 351.5,86 352.5,86.3 353.4,86.5 354.4,86.6 355.4,86.8 356.3,87 357.3,87.2 358.3,87.3 359.2,87.5 360.2,87.6 361.2,87.8 362.2,87.9 363.1,88.1 364.1,88.2 365.1,88.3 366.1,88.4 367.1,88.6 368.1,88.7 369.1,88.8 370.1,88.9 371.1,89 372.1,89.1 373.1,89.2 374.1,89.2 375.1,89.3 376.1,89.4 377.1,89.5 378.1,89.5 379.1,89.6 380.1,89.7 381.1,89.7 382.1,89.8 383.2,89.8 384.2,89.9 385.2,89.9 386.2,90 387.2,90 388.3,90 389.3,90.1 390.3,90.1 391.3,90.1 392.3,90.2 393.4,90.2 394.4,90.2 395.4,90.3 396.4,90.3 397.4,90.3 398.5,90.3 399.5,90.3 400.5,90.4 401.5,90.4 402.6,90.4 403.6,90.4 404.6,90.4 405.6,90.4 406.6,90.5 407.7,90.5 408.7,90.5 409.7,90.5 410.7,90.5 411.7,90.5 412.8,90.6 413.8,90.6 414.8,90.6 415.8,90.6 416.8,90.6 417.8,90.6 418.9,90.7 419.9,90.7 420.9,90.7 421.9,90.7 422.9,90.7 423.9,90.7 424.9,90.8 426,90.8 427,90.8 428,90.8 429,90.8 430,90.8 431,90.8 432,90.9 433,90.9 434,90.9 435.1,90.9 436.1,90.9 437.1,90.9 438.1,91 439.1,91 440.1,91 441.1,91 442.1,91 443.1,91 444.1,91 445.1,91.1 446.1,91.1 447.1,91.1 448.1,91.1 449.1,91.1 450.2,91.1 451.2,91.1 452.2,91.2 453.2,91.2 454.2,91.2 455.2,91.2 456.2,91.2 457.2,91.2 458.2,91.2 459.2,91.3 460.2,91.3 461.2,91.3 462.2,91.3 463.2,91.3 464.2,91.3 465.2,91.4 466.2,91.4 467.2,91.4 468.2,91.4 469.2,91.4 470.2,91.4 471.2,91.4 472.2,91.5 473.2,91.5 474.2,91.5 475.2,91.5 476.2,91.5 477.2,91.5 478.2,91.5 479.2,91.6 480.2,91.6 481.1,91.6 482.1,91.6 483.1,91.6 484.1,91.6 485.1,91.7 486.1,91.7 487.1,91.7 488.1,91.7 489.1,91.7 490.1,91.7 491.1,91.7 492.1,91.8 493.1,91.8 494.1,91.8 495.1,91.8 496.1,91.8 497.1,91.8 498.1,91.9 499,91.9 500,91.9 501,91.9 502,91.9 503,91.9 504,92 505,92 506,92 507,92 508,92 509,92 510,92.1 511,92.1 511.9,92.1 512.9,92.1 513.9,92.1 514.9,92.2 515.9,92.2 516.9,92.2 517.9,92.2 518.9,92.2 519.9,92.2 520.9,92.3 521.8,92.3 522.8,92.3 523.8,92.3 524.8,92.3 525.8,92.4 526.8,92.4 527.8,92.4 528.8,92.4 529.8,92.4 530.8,92.5 531.7,92.5 532.7,92.5 533.7,92.5 534.7,92.5 535.7,92.6 536.7,92.6 537.7,92.6 538.7,92.6 539.7,92.6 540.7,92.7 541.6,92.7 542.6,92.7 543.6,92.7 544.6,92.7 545.6,92.8 546.6,92.8 547.6,92.8 548.6,92.8 549.6,92.9 550.5,92.9 551.5,92.9 552.5,92.9 553.5,93 554.5,93 555.5,93 556.5,93 557.5,93.1 558.5,93.1 559.5,93.1 560.4,93.1 561.4,93.2 562.4,93.2 563.4,93.2 564.4,93.2 565.4,93.3 566.4,93.3 567.4,93.3 568.4,93.3 569.4,93.4 570.3,93.4 571.3,93.4 572.3,93.4 573.3,93.5 574.3,93.5 575.3,93.5 576.3,93.6 577.3,93.6 578.3,93.6 579.3,93.6 580.3,93.7 581.2,93.7 582.2,93.7 583.2,93.8 584.2,93.8 585.2,93.8 586.2,93.9 587.2,93.9 588.2,93.9 589.2,93.9 590.2,94 591.2,94 592.2,94 593.2,94.1 594.2,94.1 595.1,94.1 596.1,94.2 597.1,94.2 598.1,94.2 599.1,94.3 600.1,94.3 601.1,94.3 602.1,94.4 603.1,94.4 604.1,94.5 605.1,94.5 606.1,94.5 607.1,94.6 608.1,94.6 609.1,94.6 610.1,94.7 611.1,94.7 612.1,94.7 613.1,94.8 614.1,94.8 615.1,94.9 616.1,94.9 617.1,94.9 618.1,95 619.1,95 620.1,95.1 621.1,95.1 622.1,95.1 623.1,95.2 624.1,95.2 625.1,95.3 626.1,95.3 627.1,95.4 628.1,95.4 629.1,95.4 630.1,95.5 631.1,95.5 632.1,95.6 633.1,95.6 634.1,95.7 635.1,95.7 636.1,95.7 637.1,95.8 638.1,95.8 639.1,95.9 640.1,95.9 641.1,96 642.1,96 643.1,96.1 644.1,96.1 645.1,96.2 646.1,96.2 647.1,96.3 648.1,96.3 649.1,96.4 650.2,96.4 651.2,96.5 652.2,96.5 653.2,96.6 654.2,96.6 655.2,96.7 656.2,96.7 657.2,96.8 658.2,96.8 659.2,96.9 660.3,96.9 661.3,97 662.3,97.1 663.3,97.1 664.3,97.2 665.3,97.2 666.3,97.3 667.3,97.3 668.4,97.4 669.4,97.5 670.4,97.5 671.4,97.6 672.4,97.6 673.4,97.7 674.5,97.7 675.5,97.8 676.5,97.9 677.5,97.9 678.5,98 679.6,98.1 680.6,98.1 681.6,98.2 682.6,98.2 683.6,98.3 684.6,98.4 685.7,98.5 686.7,98.5 687.7,98.6 688.7,98.7 689.7,98.7 690.8,98.8 691.8,98.9 692.8,99 693.8,99.1 694.8,99.2 695.8,99.3 696.8,99.4 697.8,99.4 698.9,99.5 699.9,99.7 700.9,99.8 701.9,99.9 702.9,100 703.9,100.1 704.9,100.2 705.9,100.4 706.9,100.5 707.9,100.6 708.9,100.8 709.9,100.9 710.8,101 711.8,101.2 712.8,101.4 713.8,101.5 714.8,101.7 715.8,101.9 716.7,102 717.7,102.2 718.7,102.4 719.6,102.6 720.6,102.8 721.6,103 722.5,103.2 723.5,103.4 724.4,103.7 725.4,103.9 726.3,104.1 727.3,104.4 728.2,104.6 729.1,104.9 730.1,105.2 731,105.4 731.9,105.7 732.8,106 733.7,106.3 734.7,106.6 735.6,106.9 736.5,107.2 737.4,107.6 738.3,107.9 739.1,108.3 740,108.6 740.9,109 741.8,109.3 742.7,109.7 743.5,110.1 744.4,110.5 745.2,110.9 746.1,111.3 746.9,111.8 747.8,112.2 748.6,112.6 749.5,113.1 750.3,113.5 751.1,114 751.9,114.5 752.7,115 753.5,115.5 754.3,116 755.1,116.5 755.9,117 756.7,117.5 757.5,118 758.3,118.5 759.1,119.1 759.8,119.6 760.6,120.2 761.4,120.7 762.1,121.3 762.9,121.8 763.6,122.4 764.3,123 765.1,123.6 765.8,124.2 766.5,124.7 767.2,125.3 768,125.9 768.7,126.5 769.4,127.1 770.1,127.7 770.8,128.4 771.5,129 772.1,129.6 772.8,130.2 773.5,130.8 774.2,131.5 774.8,132.1 775.5,132.7 776.1,133.3 776.8,134 777.4,134.6 778.1,135.3 778.7,135.9 779.3,136.5 780,137.2 780.6,137.8 781.2,138.5 781.8,139.1 782.4,139.8 783,140.4 783.6,141.1 784.2,141.8 784.8,142.4 785.4,143.1 786,143.8 786.6,144.4 787.1,145.1 787.7,145.8 788.3,146.5 788.8,147.1 789.4,147.8 790,148.5 790.5,149.2 791,149.9 791.6,150.6 792.1,151.3 792.7,152 793.2,152.6 793.7,153.3 794.2,154 794.8,154.7 795.3,155.4 795.8,156.2 796.3,156.9 796.8,157.6 797.3,158.3 797.8,159 798.3,159.7 798.8,160.4 799.2,161.1 799.7,161.9 800.2,162.6 800.7,163.3 801.1,164 801.6,164.7 802.1,165.5 802.5,166.2 803,166.9 803.4,167.7 803.9,168.4 804.3,169.1 804.8,169.9 805.2,170.6 805.7,171.4 806.1,172.1 806.5,172.8 806.9,173.6 807.4,174.3 807.8,175.1 808.2,175.8 808.6,176.6 809,177.3 809.5,178.1 809.9,178.8 810.3,179.6 810.7,180.3 811.1,181.1 811.5,181.9 811.9,182.6 812.2,183.4 812.6,184.2 813,184.9 813.4,185.7 813.8,186.5 814.2,187.2 814.5,188 814.9,188.8 815.3,189.5 815.6,190.3 816,191.1 816.4,191.9 816.7,192.6 817.1,193.4 817.5,194.2 817.8,195 818.2,195.7 818.5,196.5 818.9,197.3 819.2,198.1 819.5,198.9 819.9,199.7 820.2,200.4 820.6,201.2 820.9,202 821.2,202.8 821.6,203.6 821.9,204.4 822.2,205.2 822.5,206 822.9,206.8 823.2,207.6 823.5,208.4 823.8,209.2 824.1,209.9 824.5,210.7 824.8,211.5 825.1,212.3 825.4,213.1 825.7,213.9 826,214.7 826.3,215.5 826.6,216.3 826.9,217.1 827.2,217.9 827.5,218.7 827.8,219.5 828.1,220.4 828.4,221.2 828.7,222 829,222.8 829.3,223.6 829.6,224.4 829.9,225.2 830.2,226 830.5,226.8 830.8,227.6 831.1,228.4 831.4,229.2 831.6,230 831.9,230.8 832.2,231.6 832.5,232.5 832.8,233.3 833.1,234.1 833.3,234.9 833.6,235.7 833.9,236.5 834.2,237.3 834.5,238.1 834.7,238.9 835,239.7 835.3,240.6 835.6,241.4 835.8,242.2 836.1,243 836.4,243.8 836.7,244.6 836.9,245.4 837.2,246.2 837.5,247 837.8,247.9 838,248.7 838.3,249.5 838.6,250.3 838.9,251.1 839.1,251.9 839.4,252.7 839.7,253.5 839.9,254.3 840.2,255.1 840.5,256 840.8,256.8 841,257.6 841.3,258.4 841.6,259.2 841.9,260 842.1,260.8 842.4,261.6 842.7,262.4 842.9,263.2 843.2,264 843.5,264.9 843.8,265.7 844,266.5 844.3,267.3 844.6,268.1 844.8,268.9 845.1,269.7 845.4,270.5 845.6,271.3 845.9,272.1 846.2,272.9 846.5,273.7 846.7,274.6 847,275.4 847.3,276.2 847.5,277 847.8,277.8 848.1,278.6 848.4,279.4 848.6,280.2 848.9,281 849.2,281.8 849.4,282.6 849.7,283.4 850,284.2 850.2,285 850.5,285.8 850.8,286.6 851.1,287.5 851.3,288.3 851.6,289.1 851.9,289.9 852.1,290.7 852.4,291.5 852.7,292.3 852.9,293.1 853.2,293.9 853.5,294.7 853.8,295.5 854,296.3 854.3,297.1 854.6,297.9 854.8,298.7 855.1,299.5 855.4,300.3 855.7,301.1 855.9,301.9 856.2,302.7 856.5,303.5 856.7,304.3 857,305.1 857.3,305.9 857.6,306.7 857.8,307.5 858.1,308.4 858.4,309.2 858.6,310 858.9,310.8 859.2,311.6 859.5,312.4 859.7,313.2 860,314 860.3,314.8 860.5,315.6 860.8,316.4 861.1,317.2 861.4,318 861.6,318.8 861.9,319.6 862.2,320.4 862.5,321.2 862.7,322 863,322.8 863.3,323.6 863.6,324.4 863.8,325.2 864.1,326 864.4,326.8 864.6,327.6 864.9,328.4 865.2,329.2 865.5,330 865.7,330.8 866,331.6 866.3,332.4 866.6,333.2 866.8,334 867.1,334.8 867.4,335.6 867.7,336.4 868,337.2 868.2,338 868.5,338.8 868.8,339.6 869.1,340.4 869.3,341.2 869.6,341.9 869.9,342.7 870.2,343.5 870.5,344.3 870.7,345.1 871,345.9 871.3,346.7 871.6,347.5 871.8,348.3 872.1,349.1 872.4,349.9 872.7,350.7 873,351.5 873.2,352.3 873.5,353.1 873.8,353.9 874.1,354.7 874.4,355.5 874.7,356.3 874.9,357.1 875.2,357.9 875.5,358.7 875.8,359.5 876.1,360.3 876.4,361.1 876.6,361.9 876.9,362.6 877.2,363.4 877.5,364.2 877.8,365 878.1,365.8 878.3,366.6 878.6,367.4 878.9,368.2 879.2,369 879.5,369.8 879.8,370.6 880.1,371.4 880.4,372.2 880.6,373 880.9,373.8 881.2,374.6 881.5,375.3 881.8,376.1 882.1,376.9 882.4,377.7 882.7,378.5 883,379.3 883.3,380.1 883.5,380.9 883.8,381.7 884.1,382.5 884.4,383.3 884.7,384.1 885,384.9 885.3,385.6 885.6,386.4 885.9,387.2 886.2,388 886.5,388.8 886.8,389.6 887.1,390.4 887.4,391.2 887.7,392 888,392.8 888.3,393.6 888.6,394.3 888.9,395.1 889.2,395.9 889.5,396.7 889.8,397.5 890.1,398.3 890.4,399.1 890.7,399.9 891,400.7 891.3,401.4 891.6,402.2 891.9,403 892.2,403.8 892.5,404.6 892.8,405.4 893.1,406.2 893.4,407 893.7,407.8 894,408.5 894.3,409.3 894.6,410.1 894.9,410.9 895.2,411.7 895.5,412.5 895.8,413.3 896.1,414.1 896.5,414.8 896.8,415.6 897.1,416.4 897.4,417.2 897.7,418 898,418.8 898.3,419.6 898.6,420.4 899,421.1 899.3,421.9 899.6,422.7 899.9,423.5 900.2,424.3 900.5,425.1 900.8,425.9 901.2,426.6 901.5,427.4 901.8,428.2 902.1,429 902.4,429.8 902.8,430.6 903.1,431.4 903.4,432.1 903.7,432.9 904,433.7 904.4,434.5 904.7,435.3 905,436.1 905.3,436.8 905.7,437.6 906,438.4 906.3,439.2 906.6,440 907,440.8 907.3,441.5 907.6,442.3 908,443.1 908.3,443.9 908.6,444.7 908.9,445.5 909.3,446.2 909.6,447 909.9,447.8 910.3,448.6 910.6,449.4 910.9,450.2 911.3,450.9 911.6,451.7 911.9,452.5 912.3,453.3 912.6,454.1 913,454.8 913.3,455.6 913.6,456.4 914,457.2 914.3,458 914.7,458.8 915,459.5 915.3,460.3 915.7,461.1 916,461.9 916.4,462.7 916.7,463.4 917.1,464.2 917.4,465 917.8,465.8 918.1,466.6 918.5,467.3 918.8,468.1 919.2,468.9 919.5,469.7 919.9,470.5 920.2,471.2 920.6,472 920.9,472.8 921.3,473.6 921.6,474.3 922,475.1 922.3,475.9 922.7,476.7 923.1,477.5 923.4,478.2 923.8,479 924.1,479.8 924.5,480.6 924.9,481.3 925.2,482.1 925.6,482.9 925.9,483.7 926.3,484.4 926.7,485.2 927,486 927.4,486.8 927.8,487.5 928.1,488.3 928.5,489.1 928.9,489.9 929.2,490.6 929.6,491.4 930,492.2 930.4,493 930.7,493.7 931.1,494.5 931.5,495.3 931.9,496.1 932.2,496.8 932.6,497.6 933,498.4 933.4,499.1 933.8,499.9 934.1,500.7 934.5,501.5 934.9,502.2 935.3,503 935.7,503.8 936,504.5 936.4,505.3 936.8,506.1 937.2,506.9 937.6,507.6 938,508.4 938.4,509.2 938.8,509.9 939.1,510.7 939.5,511.5 939.9,512.2 940.3,513 940.7,513.8 941.1,514.5 941.5,515.3 941.9,516.1 942.3,516.8 942.7,517.6 943.1,518.4 943.5,519.1 943.9,519.9 944.3,520.6 944.7,521.4 945.1,522.2 945.5,522.9 945.9,523.7 946.3,524.5 946.7,525.2 947.1,526 947.6,526.7 948,527.5 948.4,528.3 948.8,529 949.2,529.8 949.6,530.5 950,531.3 950.4,532.1 950.9,532.8 951.3,533.6 951.7,534.3 952.1,535.1 952.5,535.9 952.9,536.6 953.4,537.4 953.8,538.1 954.2,538.9 954.6,539.6 955.1,540.4 955.5,541.1 955.9,541.9 956.3,542.6 956.8,543.4 957.2,544.2 957.6,544.9 958.1,545.7 958.5,546.4 958.9,547.2 959.4,547.9 959.8,548.7 960.2,549.4 960.7,550.2 961.1,550.9 961.6,551.7 962,552.4 962.4,553.2 962.9,553.9 963.3,554.7 963.8,555.4 964.2,556.1 964.7,556.9 965.1,557.6 965.6,558.4 966,559.1 966.5,559.9 966.9,560.6 967.4,561.4 967.8,562.1 968.3,562.8 968.7,563.6 969.2,564.3 969.6,565.1 970.1,565.8 970.5,566.5 971,567.3 971.5,568 971.9,568.8 972.4,569.5 972.9,570.2 973.3,571 973.8,571.7 974.3,572.5 974.7,573.2 975.2,573.9 975.7,574.7 976.1,575.4 976.6,576.1 977.1,576.9 977.6,577.6 978,578.3 978.5,579.1 979,579.8 979.5,580.5 980,581.2 980.4,582 980.9,582.7 981.4,583.4 981.9,584.2 982.4,584.9 982.9,585.6 983.3,586.3 983.8,587.1 984.3,587.8 984.8,588.5 985.3,589.2 985.8,590 986.3,590.7 986.8,591.4 987.3,592.1 987.8,592.9 988.3,593.6 988.8,594.3 989.3,595 989.8,595.7 990.3,596.5 990.8,597.2 991.3,597.9 991.8,598.6 992.3,599.3 992.8,600 993.3,600.8 993.8,601.5 994.4,602.2 994.9,602.9 995.4,603.6 995.9,604.3 996.4,605 996.9,605.7 997.5,606.5 998,607.2 998.5,607.9 999,608.6 999.5,609.3 1000.1,610 1000.6,610.7 1001.1,611.4 1001.7,612.1 1002.2,612.8 1002.7,613.5 1003.2,614.2 1003.8,614.9 1004.3,615.6 1004.8,616.3 1005.4,617 1005.9,617.7 1006.5,618.4 1007,619.1 1007.5,619.8 1008.1,620.5 1008.6,621.2 1009.2,621.9 1009.7,622.6 1010.3,623.3 1010.8,624 1011.4,624.7 1011.9,625.4 1012.5,626.1 1013,626.8 1013.6,627.5 1014.1,628.2 1014.7,628.9 1015.3,629.5 1015.8,630.2 1016.4,630.9 1016.9,631.6 1017.5,632.3 1018.1,633 1018.6,633.7 1019.2,634.3 1019.8,635 1020.3,635.7 1020.9,636.4 1021.5,637.1 1022.1,637.8 1022.6,638.4 1023.2,639.1 1023.8,639.8 1024.4,640.5 1024.9,641.2 1025.5,641.8 1026.1,642.5 1026.7,643.2 1027.2,643.9 1027.8,644.6 1028.4,645.2 1029,645.9 1029.6,646.6 1030.2,647.3 1030.7,647.9 1031.3,648.6 1031.9,649.3 1032.5,650 1033.1,650.6 1033.7,651.3 1034.3,652 1034.8,652.7 1035.4,653.3 1036,654 1036.6,654.7 1037.2,655.3 1037.8,656 1038.4,656.7 1039,657.4 1039.6,658 1040.2,658.7 1040.8,659.4 1041.4,660 1042,660.7 1042.6,661.4 1043.2,662 1043.8,662.7 1044.4,663.4 1045,664.1 1045.5,664.7 1046.1,665.4 1046.7,666.1 1047.3,666.7 1047.9,667.4 1048.5,668.1 1049.1,668.7 1049.7,669.4 1050.3,670.1 1050.9,670.7 1051.5,671.4 1052.2,672.1 1052.8,672.7 1053.4,673.4 1054,674.1 1054.6,674.7 1055.2,675.4 1055.8,676.1 1056.4,676.7 1057,677.4 1057.6,678.1 1058.2,678.7 1058.8,679.4 1059.4,680.1 1060,680.7 1060.6,681.4 1061.2,682 1061.8,682.7 1062.4,683.4 1063,684 1063.6,684.7 1064.2,685.4 1064.8,686 1065.4,686.7 1066,687.4 1066.6,688 1067.2,688.7 1067.8,689.4 1068.4,690 1069,690.7 1069.6,691.4 1070.2,692 1070.8,692.7 1071.4,693.4 1072,694.1 1072.6,694.7 1073.2,695.4 1073.8,696.1 1074.4,696.7 1075,697.4 1075.6,698.1 1076.2,698.7 1076.8,699.4 1077.4,700.1 1078,700.7 1078.6,701.4 1079.2,702.1 1079.8,702.8 1080.4,703.4 1081,704.1 1081.6,704.8 1082.1,705.4 1082.7,706.1 1083.3,706.8 1083.9,707.5 1084.5,708.1 1085.1,708.8 1085.7,709.5 1086.3,710.2 1086.9,710.8 1087.4,711.5 1088,712.2 1088.6,712.9 1089.2,713.5 1089.8,714.2 1090.4,714.9 1091,715.6 1091.5,716.3 1092.1,716.9 1092.7,717.6 1093.3,718.3 1093.9,719 1094.4,719.7 1095,720.3 1095.6,721 1096.2,721.7 1096.7,722.4 1097.3,723.1 1097.9,723.8 1098.4,724.4 1099,725.1 1099.6,725.8 1100.2,726.5 1100.7,727.2 1101.3,727.9 1101.8,728.6 1102.4,729.2 1103,729.9 1103.5,730.6 1104.1,731.3 1104.7,732 1105.2,732.7 1105.8,733.4 1106.3,734.1 1106.9,734.8 1107.4,735.5 1108,736.2 1108.5,736.9 1109.1,737.6 1109.6,738.3 1110.2,739 1110.7,739.7 1111.3,740.4 1111.8,741.1 1112.4,741.8 1112.9,742.5 1113.4,743.2 1114,743.9 1114.5,744.6 1115,745.3 1115.6,746 1116.1,746.7 1116.6,747.4 1117.2,748.1 1117.7,748.8 1118.2,749.5 1118.7,750.3 1119.3,751 1119.8,751.7 1120.3,752.4 1120.8,753.1 1121.3,753.8 1121.9,754.5 1122.4,755.3 1122.9,756 1123.4,756.7 1123.9,757.4 1124.4,758.1 1124.9,758.9 1125.4,759.6 1125.9,760.3 1126.4,761 1126.9,761.8 1127.4,762.5 1127.9,763.2 1128.4,763.9 1128.9,764.7 1129.4,765.4 1129.9,766.1 1130.4,766.9 1130.9,767.6 1131.4,768.3 1131.8,769.1 1132.3,769.8 1132.8,770.5 1133.3,771.3 1133.8,772 1134.3,772.7 1134.7,773.5 1135.2,774.2 1135.7,774.9 1136.2,775.7 1136.6,776.4 1137.1,777.2 1137.6,777.9 1138.1,778.6 1138.5,779.4 1139,780.1 1139.5,780.9 1139.9,781.6 1140.4,782.4 1140.9,783.1 1141.3,783.8 1141.8,784.6 1142.3,785.3 1142.7,786.1 1143.2,786.8 1143.6,787.6 1144.1,788.3 1144.6,789.1 1145,789.8 1145.5,790.6 1145.9,791.3 1146.4,792.1 1146.9,792.8 1147.3,793.5 1147.8,794.3 1148.2,795 1148.7,795.8 1149.1,796.5 1149.6,797.3 1150,798 1150.5,798.8 1150.9,799.5 1151.4,800.3 1151.8,801.1 1152.3,801.8 1152.7,802.6 1153.2,803.3 1153.6,804.1 1154.1,804.8 1154.5,805.6 1155,806.3 1155.4,807.1 1155.8,807.8 1156.3,808.6 1156.7,809.3 1157.2,810.1 1157.6,810.8 1158.1,811.6 1158.5,812.3 1159,813.1 1159.4,813.8 1159.8,814.6 1160.3,815.4 1160.7,816.1 1161.2,816.9 1161.6,817.6 1162.1,818.4 1162.5,819.1 1162.9,819.9 1163.4,820.6 1163.8,821.4 1164.3,822.1 1164.7,822.9 1165.2,823.6 1165.6,824.4 1166,825.1 1166.5,825.9 1166.9,826.6 1167.4,827.4 1167.8,828.1 1168.3,828.9 1168.7,829.6 1169.2,830.4 1169.6,831.1 1170,831.9 1170.5,832.6 1170.9,833.4 1171.4,834.1 1171.8,834.9 1172.3,835.6 1172.7,836.4 1173.2,837.1 1173.6,837.9 1174,838.6 1174.5,839.4 1174.9,840.1 1175.4,840.9 1175.8,841.6 1176.3,842.4 1176.7,843.1 1177.2,843.8 1177.6,844.6 1178.1,845.3 1178.5,846.1 1179,846.8 1179.4,847.6 1179.9,848.3 1180.3,849.1 1180.8,849.8 1181.2,850.5 1181.7,851.3 1182.1,852 1182.6,852.8 1183,853.5 1183.5,854.2 1183.9,855 1184.4,855.7 1184.8,856.5 1185.3,857.2 1185.8,858 1186.2,858.7 1186.7,859.4 1187.1,860.2 1187.6,860.9 1188,861.6 1188.5,862.4 1188.9,863.1 1189.4,863.9 1189.9,864.6 1190.3,865.3 1190.8,866.1 1191.2,866.8 1191.7,867.5 1192.1,868.3 1192.6,869 1193.1,869.8 1193.5,870.5 1194,871.2 1194.4,872 1194.9,872.7 1195.3,873.4 1195.8,874.2 1196.3,874.9 1196.7,875.6 1197.2,876.4 1197.6,877.1 1198.1,877.8 1198.6,878.6 1199,879.3 1199.5,880 1200,880.8 1200.4,881.5 1200.9,882.2 1201.3,883 1201.8,883.7 1202.3,884.4 1202.7,885.2 1203.2,885.9 1203.7,886.6 1204.1,887.4 1204.6,888.1 1205,888.8 1205.5,889.6 1206,890.3 1206.4,891 1206.9,891.8 1207.4,892.5 1207.8,893.2 1208.3,893.9 1208.8,894.7 1209.2,895.4 1209.7,896.1 1210.2,896.9 1210.6,897.6 1211.1,898.3 1211.6,899.1 1212,899.8 1212.5,900.5 1213,901.2 1213.4,902 1213.9,902.7 1214.4,903.4 1214.9,904.2 1215.3,904.9 1215.8,905.6 1216.3,906.3 1216.7,907.1 1217.2,907.8 1217.7,908.5 1218.1,909.3 1218.6,910 1219.1,910.7 1219.6,911.4 1220,912.2 1220.5,912.9 1221,913.6 1221.4,914.3 1221.9,915.1 1222.4,915.8 1222.9,916.5 1223.3,917.2 1223.8,918 1224.3,918.7 1224.8,919.4 1225.2,920.2 1225.7,920.9 1226.2,921.6 1226.7,922.3 1227.1,923.1 1227.6,923.8 1228.1,924.5 1228.6,925.2 1229,926 1229.5,926.7 1230,927.4 1230.5,928.1 1230.9,928.9 1231.4,929.6 1231.9,930.3 1232.4,931 1232.8,931.8 1233.3,932.5 1233.8,933.2 1234.3,933.9 1234.8,934.7 1235.2,935.4 1235.7,936.1 1236.2,936.8 1236.7,937.6 1237.1,938.3 1237.6,939 1238.1,939.7 1238.6,940.5 1239.1,941.2 1239.5,941.9 1240,942.6 1240.5,943.4 1241,944.1 1241.5,944.8 1241.9,945.5 1242.4,946.3 1242.9,947 1243.4,947.7 1243.9,948.4 1244.4,949.2 1244.8,949.9 1245.3,950.6 1245.8,951.3 1246.3,952.1 1246.8,952.8 1247.2,953.5 1247.7,954.2 1248.2,955 1248.7,955.7 1249.2,956.4 1249.7,957.1 1250.1,957.9 1250.6,958.6 1251.1,959.3 1251.6,960 1252.1,960.8 1252.6,961.5 1253.1,962.2 1253.5,962.9 1254,963.7 1254.5,964.4 1255,965.1 1255.5,965.8 1256,966.6 1256.5,967.3 1256.9,968 1257.4,968.7 1257.9,969.5 1258.4,970.2 1258.9,970.9 1259.4,971.7 1259.9,972.4 1260.3,973.1 1260.8,973.8 1261.3,974.6 1261.8,975.3 1262.3,976 1262.8,976.7 1263.3,977.5 1263.8,978.2 1264.3,978.9 1264.7,979.6 1265.2,980.4 1265.7,981.1 1266.2,981.8 1266.7,982.6 1267.2,983.3 1267.7,984 1268.2,984.7 1268.7,985.5 1269.1,986.2 1269.6,986.9 1270.1,987.6 1270.6,988.4 1271.1,989.1 1271.6,989.8 1272.1,990.6 1272.6,991.3 1273.1,992 1273.6,992.8 1274.1,993.5 1274.5,994.2 1275,994.9 1275.5,995.7 1276,996.4 1276.5,997.1 1277,997.9 1277.5,998.6 1278,999.3 1278.5,1000 1279,1000.8 1279.5,1001.5 1280,1002.2 1280.5,1003 1280.9,1003.7 1281.4,1004.4 1281.9,1005.2 1282.4,1005.9 1282.9,1006.6 1283.4,1007.4 1283.9,1008.1 1284.4,1008.8 1284.9,1009.6 1285.4,1010.3 1285.9,1011 1286.4,1011.8 1286.9,1012.5 1287.4,1013.2 1287.9,1014 1288.4,1014.7 1288.9,1015.4 1289.4,1016.2 1289.8,1016.9 1290.3,1017.6 1290.8,1018.4 1291.3,1019.1 1291.8,1019.8 1292.3,1020.6 1292.8,1021.3 1293.3,1022 1293.8,1022.8 1294.3,1023.5 1294.8,1024.3 1295.3,1025 1295.8,1025.7 1296.3,1026.5 1296.8,1027.2 1297.3,1027.9 1297.8,1028.7 1298.3,1029.4 1298.8,1030.2 1299.3,1030.9 1299.8,1031.6 1300.3,1032.4 1300.8,1033.1 1301.3,1033.8 1301.8,1034.6 1302.3,1035.3 1302.8,1036.1 1303.3,1036.8 1303.8,1037.5 1304.3,1038.3 1304.8,1039 1305.3,1039.8 1305.8,1040.5 1306.3,1041.2 1306.8,1042 1307.3,1042.7 1307.8,1043.4 1308.3,1044.2 1308.8,1044.9 1309.3,1045.7 1309.8,1046.4 1310.3,1047.1 1310.8,1047.9 1311.3,1048.6 1311.9,1049.3 1312.4,1050.1 1312.9,1050.8 1313.4,1051.5 1313.9,1052.2 1314.4,1053 1315,1053.7 1315.5,1054.4 1316,1055.1 1316.5,1055.9 1317.1,1056.6 1317.6,1057.3 1318.1,1058 1318.7,1058.7 1319.2,1059.5 1319.7,1060.2 1320.3,1060.9 1320.8,1061.6 1321.4,1062.3 1321.9,1063 1322.5,1063.7 1323,1064.4 1323.6,1065.1 1324.1,1065.8 1324.7,1066.5 1325.2,1067.2 1325.8,1067.9 1326.4,1068.6 1326.9,1069.3 1327.5,1070 1328.1,1070.7 1328.6,1071.4 1329.2,1072.1 1329.8,1072.7 1330.4,1073.4 1331,1074.1 1331.6,1074.8 1332.1,1075.4 1332.7,1076.1 1333.3,1076.8 1333.9,1077.4 1334.5,1078.1 1335.2,1078.8 1335.8,1079.4 1336.4,1080.1 1337,1080.7 1337.6,1081.4 1338.2,1082 1338.9,1082.6 1339.5,1083.3 1340.1,1083.9 1340.8,1084.6 1341.4,1085.2 1342.1,1085.8 1342.7,1086.4 1343.4,1087 1344,1087.7 1344.7,1088.3 1345.4,1088.9 1346,1089.5 1346.7,1090.1 1347.4,1090.7 1348.1,1091.3 1348.7,1091.9 1349.4,1092.5 1350.1,1093.1 1350.8,1093.6 1351.5,1094.2 1352.2,1094.8 1352.9,1095.4 1353.7,1095.9 1354.4,1096.5 1355.1,1097 1355.8,1097.6 1356.6,1098.1 1357.3,1098.7 1358.1,1099.2 1358.8,1099.8 1359.5,1100.3 1360.3,1100.8 1361.1,1101.4 1361.8,1101.9 1362.6,1102.4 1363.3,1102.9 1364.1,1103.5 1364.9,1104 1365.7,1104.5 1366.5,1105 1367.2,1105.5 1368,1106 1368.8,1106.5 1369.6,1107 1370.4,1107.4 1371.2,1107.9 1372,1108.4 1372.8,1108.9 1373.7,1109.4 1374.5,1109.8 1375.3,1110.3 1376.1,1110.8 1377,1111.2 1377.8,1111.7 1378.6,1112.1 1379.5,1112.6 1380.3,1113 1381.1,1113.5 1382,1113.9 1382.8,1114.3 1383.7,1114.8 1384.5,1115.2 1385.4,1115.6 1386.3,1116 1387.1,1116.4 1388,1116.9 1388.8,1117.3 1389.7,1117.7 1390.6,1118.1 1391.5,1118.5 1392.3,1118.9 1393.2,1119.3 1394.1,1119.7 1395,1120.1 1395.9,1120.4 1396.8,1120.8 1397.7,1121.2 1398.6,1121.6 1399.5,1122 1400.4,1122.3 1401.3,1122.7 1402.2,1123.1 1403.1,1123.4 1404,1123.8 1404.9,1124.1 1405.8,1124.5 1406.7,1124.8 1407.7,1125.2 1408.6,1125.5 1409.5,1125.8 1410.4,1126.2 1411.3,1126.5 1412.3,1126.8 1413.2,1127.2 1414.1,1127.5 1415.1,1127.8 1416,1128.1 1416.9,1128.4 1417.9,1128.7 1418.8,1129 1419.7,1129.4 1420.7,1129.7 1421.6,1130 1422.6,1130.2 1423.5,1130.5 1424.5,1130.8 1425.4,1131.1 1426.4,1131.4 1427.3,1131.7 1428.3,1132 1429.2,1132.2 1430.2,1132.5 1431.1,1132.8 1432.1,1133 1433.1,1133.3 1434,1133.6 1435,1133.8 1435.9,1134.1 1436.9,1134.3 1437.9,1134.6 1438.8,1134.8 1439.8,1135.1 1440.8,1135.3 1441.7,1135.5 1442.7,1135.8 1443.7,1136 1444.6,1136.2 1445.6,1136.5 1446.6,1136.7 1447.5,1136.9 1448.5,1137.1 1449.5,1137.3 1450.5,1137.5 1451.4,1137.7 1452.4,1138 1453.4,1138.2 1454.4,1138.4 1455.3,1138.6 1456.3,1138.8 1457.3,1138.9 1458.3,1139.1 1459.2,1139.3 1460.2,1139.5 1461.2,1139.7 1462.2,1139.9 1463.1,1140.1 1464.1,1140.2 1465.1,1140.4 1466.1,1140.6 1467,1140.8 1468,1140.9 1469,1141.1 1470,1141.3 1471,1141.4 1471.9,1141.6 1472.9,1141.7 1473.9,1141.9 1474.9,1142.1 1475.9,1142.2 1476.9,1142.4 1477.8,1142.5 1478.8,1142.7 1479.8,1142.8 1480.8,1143 1481.8,1143.1 1482.7,1143.3 1483.7,1143.4 1484.7,1143.5 1485.7,1143.7 1486.7,1143.8 1487.7,1144 1488.6,1144.1 1489.6,1144.2 1490.6,1144.4 1491.6,1144.5 1492.6,1144.6 1493.6,1144.8 1494.6,1144.9 1495.5,1145 1496.5,1145.2 1497.5,1145.3 1498.5,1145.4 1499.5,1145.6 1500.5,1145.7 1501.5,1145.8 1502.4,1145.9 1503.4,1146.1 1504.4,1146.2 1505.4,1146.3 1506.4,1146.4 1507.4,1146.6 1508.4,1146.7 1509.4,1146.8 1510.3,1146.9 1511.3,1147.1 1512.3,1147.2 1513.3,1147.3 1514.3,1147.4 1515.3,1147.6 1516.3,1147.7 1517.2,1147.8 1518.2,1147.9 1519.2,1148.1 1520.2,1148.2 1521.2,1148.3 1522.2,1148.4 1523.2,1148.6 1524.2,1148.7 1525.1,1148.8 1526.1,1148.9 1527.1,1149.1 1528.1,1149.2 1529.1,1149.3 1530.1,1149.5 1531.1,1149.6 1532.1,1149.7 1533,1149.8 1534,1150 1535,1150.1 1536,1150.2 1537,1150.4 1538,1150.5 1539,1150.6 1539.9,1150.8 1540.9,1150.9 1541.9,1151 1542.9,1151.1 1543.9,1151.3 1544.9,1151.4 1545.9,1151.5 1546.9,1151.6 1547.8,1151.7 1548.8,1151.7 1549.8,1151.6 1550.8,1151.5 1551.8,1151.5 1552.8,1151.7 1553.8,1152.1 1554.7,1152.6 1555.7,1153.1 1556.7,1153.5 1557.7,1153.8 1558.7,1153.9 1559.7,1153.8 1560.7,1153.6 1561.7,1153.3 1562.6,1153.1 1563.6,1153 1564.6,1153.2 1565.6,1153.7 1566.6,1154.3 1567.6,1154.9 1568.6,1155.4 1569.5,1155.8 1570.5,1155.9 1571.5,1155.9 1572.5,1155.7 1573.5,1155.5 1574.5,1155.4 1575.5,1155.2 1576.4,1155.2 1577.4,1155.3 1578.4,1155.6 1579.4,1156 1580.4,1156.3 1581.4,1156.6 1582.4,1157 1583.3,1157.4 1584.3,1157.8 1585.3,1157.9 1586.3,1157.9 1587.3,1157.7 1588.3,1157.5 1589.3,1157.3 1590.2,1157.1 1591.2,1156.8 1592.2,1156.7 1593.2,1156.8 1594.2,1157.1 1595.2,1157.6 1596.2,1158.2 1597.1,1158.8 1598.1,1159.4 1599.1,1159.9 1600.1,1160.1 1601.1,1160.2 1602.1,1160.1 1603,1160 1604,1159.9 1605,1159.9 1606,1159.8 1607,1159.8 1608,1159.9 1609,1160.1 1609.9,1160.5 1610.9,1161 1611.9,1161.4 1612.9,1161.8 1613.9,1162 1614.9,1162 1615.8,1161.8 1616.8,1161.4 1617.8,1161 1618.8,1160.8 1619.8,1160.7 1620.8,1160.9 1621.7,1161.4 1622.7,1162 1623.7,1162.6 1624.7,1163.2 1625.7,1163.7 1626.7,1164.1 1627.6,1164.2 1628.6,1164.2 1629.6,1164.1 1630.6,1164 1631.6,1163.9 1632.6,1163.8 1633.5,1163.7 1634.5,1163.9 1635.5,1164.2 1636.5,1164.4 1637.5,1164.6 1638.4,1164.5 1639.4,1164.5 1640.4,1164.7 1641.4,1165 1642.4,1165.3 1643.4,1165.6 1644.3,1165.6 1645.3,1165.7 1646.3,1165.8 1647.3,1166.1 1648.3,1166.5 1649.2,1166.9 1650.2,1167.2 1651.2,1167.4 1652.2,1167.6 1653.2,1167.8 1654.1,1167.9 1655.1,1168.1 1656.1,1168.3 1657.1,1168.4 1658.1,1168.6 1659.1,1168.8 1660,1168.9 1661,1169.1 1662,1169.2 1663,1169.4 1664,1169.6 1664.9,1169.7 1665.9,1169.9 1666.9,1170.1 1667.9,1170.2 1668.9,1170.4 1669.8,1170.6 1670.8,1170.7 1671.8,1170.9 1672.8,1171.1 1673.7,1171.2 1674.7,1171.4 1675.7,1171.6 1676.7,1171.7 1677.7,1171.9 1678.6,1172.1 1679.6,1172.3 1680.6,1172.4 1681.6,1172.6 1682.6,1172.8 1683.5,1172.9 1684.5,1173.1 1685.5,1173.3 1686.5,1173.4 1687.4,1173.6 1688.4,1173.8 1689.4,1174 1690.4,1174.1 1691.3,1174.3 1692.3,1174.5 1693.3,1174.6 1694.3,1174.8 1695.3,1175 1696.2,1175.2 1697.2,1175.3 1698.2,1175.5 1699.2,1175.7 1700.1,1175.9 1701.1,1176 1702.1,1176.2 1703.1,1176.4 1704,1176.5 1705,1176.7 1706,1176.9 1707,1177.1 1707.9,1177.2 1708.9,1177.4 1709.9,1177.6 1710.9,1177.7 1711.9,1177.9 1712.8,1178.1 1713.8,1178.2 1714.8,1178.4 1715.8,1178.6 1716.7,1178.7 1717.7,1178.9 1718.7,1179.1 1719.7,1179.2 1720.7,1179.4 1721.6,1179.5 1722.6,1179.7 1723.6,1179.8 1724.6,1179.9 1725.6,1180.1 1726.5,1180.2 1727.5,1180.4 1728.5,1180.5 1729.5,1180.6 1730.5,1180.7 1731.5,1180.9 1732.5,1181 1733.4,1181.1 1734.4,1181.2 1735.4,1181.3 1736.4,1181.4 1737.4,1181.5 1738.4,1181.6 1739.4,1181.7 1740.4,1181.8 1741.4,1181.9 1742.4,1182 1743.4,1182.1 1744.4,1182.2 1745.4,1182.3 1746.4,1182.4 1747.4,1182.5 1748.4,1182.6 1749.4,1182.8 1750.4,1182.9 1751.4,1183 1752.4,1183.1 1753.4,1183.2 1754.4,1183.4 1755.4,1183.5 1756.4,1183.6 1757.4,1183.7 1758.4,1183.8 1759.4,1183.9 1760.4,1183.9 1761.4,1184 1762.4,1184 1763.4,1184 1764.4,1184 1765.4,1183.9 1766.3,1183.8 1767.3,1183.7 1768.3,1183.5 1769.3,1183.3 1770.2,1183.1 1771.2,1182.9 1772.2,1182.6 1773.1,1182.4 1774.1,1182.1 1775,1181.9 1776,1181.7 1777,1181.5 1777.9,1181.4 1778.9,1181.3 1779.8,1181.2 1780.8,1181.2 1781.8,1181.2 1782.8,1181.3 1783.7,1181.4 1784.7,1181.6 1785.7,1181.7 1786.6,1181.9 1787.6,1182.1 1788.6,1182.4 1789.6,1182.6 1790.5,1182.8 1791.5,1183.1 1792.5,1183.3 1793.5,1183.6 1794.5,1183.8 1795.4,1184 1796.4,1184.2 1797.4,1184.4 1798.4,1184.6 1799.4,1184.8 1800.3,1185 1801.3,1185.1 1802.3,1185.3 1803.3,1185.5 1804.3,1185.6 1805.3,1185.8 1806.2,1185.9 1807.2,1186.1 1808.2,1186.2 1809.2,1186.4 1810.2,1186.5 1811.1,1186.6 1812.1,1186.8 1813.1,1186.9 1814.1,1187.1 1815.1,1187.2 1816.1,1187.4 1817,1187.5 1818,1187.7 1819,1187.8 1820,1187.9 1821,1188.1 1822,1188.2 1823,1188.4 1823.9,1188.5 1824.9,1188.6 1825.9,1188.8 1826.9,1188.9 1827.9,1189.1 1828.9,1189.2 1829.9,1189.3 1830.8,1189.5 1831.8,1189.6 1832.8,1189.8 1833.8,1189.9 1834.8,1190 1835.8,1190.2 1836.8,1190.3 1837.7,1190.5 1838.7,1190.6 1839.7,1190.7 1840.7,1190.9 1841.7,1191 1842.7,1191.1 1843.7,1191.2 1844.7,1191.4 1845.6,1191.5 1846.6,1191.6 1847.6,1191.8 1848.6,1191.9 1849.6,1192 1850.6,1192.1 1851.6,1192.3 1852.6,1192.4 1853.6,1192.5 1854.6,1192.6 1855.5,1192.7 1856.5,1192.9 1857.5,1193 1858.5,1193.1 1859.5,1193.2 1860.5,1193.3 1861.5,1193.4 1862.5,1193.5 1863.5,1193.7 1864.5,1193.8 1865.5,1193.9 1866.4,1194 1867.4,1194.1 1868.4,1194.2 1869.4,1194.3 1870.4,1194.4 1871.4,1194.5 1872.4,1194.6 1873.4,1194.7 1874.4,1194.8 1875.4,1194.8 1876.4,1194.9 1877.4,1195 1878.4,1195.1 1879.4,1195.2 1880.3,1195.3 1881.3,1195.4 1882.3,1195.5 1883.3,1195.5 1884.3,1195.6 1885.3,1195.7 1886.3,1195.8 1887.3,1195.9 1888.3,1195.9 1889.3,1196 1890.3,1196.1 1891.3,1196.1 1892.3,1196.2 1893.3,1196.3 1894.3,1196.4 1895.3,1196.4 1896.3,1196.5 1897.3,1196.6 1898.3,1196.6 1899.3,1196.7 1900.3,1196.8 1901.3,1196.8 1902.3,1196.9 1903.3,1196.9 1904.2,1197 1905.2,1197 1906.2,1197.1 1907.2,1197.2 1908.2,1197.2 1909.2,1197.3 1910.2,1197.3 1911.2,1197.4 1912.2,1197.4 1913.2,1197.5 1914.2,1197.5 1915.2,1197.6 1916.2,1197.6 1917.2,1197.7 1918.2,1197.7 1919.2,1197.8 1920.2,1197.8 1921.2,1197.8 1922.2,1197.9 1923.2,1197.9 1924.2,1198 1925.2,1198 1926.2,1198 1927.2,1198.1 1928.2,1198.1 1929.2,1198.1 1930.2,1198.2 1931.2,1198.2 1932.2,1198.2 1933.2,1198.3 1934.2,1198.3 1935.2,1198.3 1936.2,1198.4 1937.2,1198.4 1938.2,1198.4 1939.2,1198.5 1940.2,1198.5 1941.2,1198.5 1942.2,1198.5 1943.2,1198.6 1944.2,1198.6 1945.2,1198.6 1946.2,1198.6 1947.2,1198.6 1948.2,1198.7 1949.2,1198.7 1950.2,1198.7 1951.2,1198.7 1952.2,1198.7 1953.2,1198.8 1954.2,1198.8 1955.2,1198.8 1956.2,1198.8 1957.2,1198.8 1958.2,1198.9 1959.2,1198.9 1960.2,1198.9 1961.2,1198.9 1962.2,1198.9 1963.2,1198.9 1964.2,1198.9 1965.2,1198.9 1966.2,1199 1967.2,1199 1968.2,1199 1969.2,1199 1970.2,1199 1971.2,1199 1972.2,1199 1973.2,1199 1974.2,1199 1975.2,1199 1976.2,1199 1977.2,1199.1 1978.2,1199.1 1979.2,1199.1 1980.2,1199.1 1981.2,1199.1 1982.2,1199.1 1983.2,1199.1 1984.2,1199.1 1985.2,1199.1 1986.2,1199.1 1987.2,1199.1 1988.2,1199.1 1989.2,1199.1 1990.2,1199.1 1991.2,1199.1 1992.2,1199.1 1993.2,1199.1 1994.2,1199.1 1995.2,1199.1 1996.2,1199.1 1997.2,1199.1 1998.2,1199.1 1999.2,1199.1 2000.2,1199.1 2001.2,1199.1 2002.2,1199.1 2003.2,1199.1 2004.2,1199.1 2005.2,1199.1 2006.2,1199.1 2007.2,1199.1 2008.2,1199.1 2009.2,1199.1 2010.2,1199.1 2011.2,1199.1 2012.2,1199.1 2013.2,1199.1 2014.2,1199.1 2015.2,1199.1 2016.2,1199.1 2017.2,1199.1 2018.2,1199.1 2018.6,1199.1 2020.6,1199.1" stroke="#008080"/>
<path d="M311.1,59.2 312.7,60 314.4,60.9 316.1,61.9 317.7,62.8 319.4,63.7 321.1,64.6 322.8,65.5 324.5,66.4 326.3,67.2 328,68 329.8,68.8 331.6,69.6 333.4,70.2 335.2,70.9 337.1,71.4 339,71.9 340.9,72.4 342.8,72.8 344.7,73.2 346.6,73.6 348.6,73.9 350.6,74.2 352.5,74.4 354.5,74.7 356.5,74.9 358.5,75.1 360.5,75.3 362.5,75.5 364.5,75.6 366.5,75.8 368.5,76 370.5,76.1 372.5,76.3 374.5,76.5 376.5,76.6 378.5,76.8 380.5,76.9 382.5,77.1 384.5,77.2 386.5,77.4 388.4,77.5 390.4,77.7 392.4,77.8 394.4,77.9 396.4,78 398.4,78.2 400.4,78.3 402.4,78.4 404.4,78.5 406.4,78.6 408.4,78.7 410.4,78.8 412.4,79 414.4,79.1 416.4,79.2 418.4,79.2 420.4,79.3 422.4,79.4 424.4,79.5 426.4,79.6 428.4,79.7 430.4,79.8 432.4,79.9 434.4,79.9 436.4,80 438.4,80.1 440.4,80.2 442.4,80.2 444.4,80.3 446.3,80.4 448.3,80.4 450.3,80.5 452.3,80.6 454.3,80.6 456.3,80.7 458.3,80.7 460.3,80.8 462.3,80.8 464.3,80.9 466.3,80.9 468.3,81 470.3,81 472.3,81.1 474.3,81.1 476.3,81.2 478.3,81.2 480.3,81.3 482.3,81.3 484.3,81.4 486.3,81.4 488.3,81.4 490.3,81.5 492.3,81.5 494.3,81.5 496.3,81.6 498.3,81.6 500.3,81.7 502.3,81.7 504.3,81.7 506.3,81.8 508.3,81.8 510.3,81.8 512.3,81.8 514.3,81.9 516.3,81.9 518.3,81.9 520.3,82 522.3,82 524.3,82 526.3,82.1 528.3,82.1 530.3,82.1 532.3,82.2 534.3,82.2 536.3,82.2 538.3,82.3 540.3,82.3 542.3,82.3 544.3,82.4 546.3,82.4 548.3,82.4 550.3,82.5 552.3,82.5 554.3,82.5 556.3,82.6 558.3,82.6 560.3,82.6 562.3,82.7 564.3,82.7 566.3,82.8 568.3,82.8 570.3,82.8 572.3,82.9 574.3,82.9 576.3,83 578.3,83 580.3,83.1 582.3,83.1 584.3,83.2 586.3,83.3 588.3,83.3 590.3,83.4 592.3,83.4 594.3,83.5 596.3,83.6 598.3,83.6 600.3,83.7 602.3,83.8 604.3,83.9 606.3,84 608.3,84.1 610.3,84.1 612.3,84.2 614.3,84.3 616.3,84.4 618.3,84.6 620.3,84.7 622.3,84.8 624.3,84.9 626.3,85 628.3,85.2 630.3,85.3 632.3,85.4 634.2,85.6 636.2,85.7 638.2,85.9 640.2,86 642.2,86.2 644.2,86.4 646.2,86.5 648.2,86.7 650.2,86.9 652.2,87.1 654.1,87.3 656.1,87.5 658.1,87.7 660.1,87.9 662.1,88.1 664.1,88.3 666,88.6 668,88.8 670,89.1 672,89.3 674,89.6 675.9,89.9 677.9,90.1 679.9,90.4 681.9,90.7 683.8,91 685.8,91.3 687.8,91.6 689.7,91.9 691.7,92.3 693.7,92.6 695.6,92.9 697.6,93.3 699.6,93.7 701.5,94 703.5,94.4 705.4,94.8 707.4,95.2 709.3,95.6 711.3,96 713.2,96.5 715.2,96.9 717.1,97.4 719,97.8 720.9,98.3 722.9,98.8 724.7,99.4 726.6,99.9 728.5,100.5 730.4,101.1 732.2,101.7 734,102.3 735.8,103 737.6,103.7 739.4,104.4 741.1,105.1 742.9,105.9 744.6,106.7 746.3,107.5 747.9,108.4 749.6,109.3 751.2,110.2 752.8,111.2 754.3,112.1 755.9,113.2 757.4,114.2 758.9,115.2 760.4,116.3 761.9,117.4 763.3,118.6 764.7,119.7 766.1,120.9 767.5,122.1 768.9,123.3 770.2,124.5 771.5,125.8 772.8,127.1 774.1,128.4 775.4,129.7 776.6,131 777.8,132.3 779,133.7 780.2,135.1 781.4,136.5 782.5,137.9 783.7,139.3 784.8,140.7 785.9,142.1 786.9,143.6 788,145 789,146.5 790.1,148 791.1,149.4 792,150.9 793,152.4 794,153.9 794.9,155.4 795.8,156.9 796.7,158.4 797.6,160 798.5,161.5 799.4,163 800.2,164.5 801.1,166 801.9,167.6 802.7,169.1 803.5,170.6 804.2,172.2 805,173.7 805.8,175.2 806.5,176.8 807.2,178.3 808,179.9 808.7,181.4 809.4,183 810.1,184.5 810.7,186.1 811.4,187.6 812.1,189.2 812.7,190.8 813.4,192.3 814,193.9 814.6,195.5 815.2,197 815.9,198.6 816.5,200.2 817.1,201.7 817.7,203.3 818.2,204.9 818.8,206.5 819.4,208.1 820,209.6 820.6,211.2 821.1,212.8 821.7,214.4 822.3,216 822.8,217.6 823.4,219.2 823.9,220.8 824.5,222.4 825,224 825.6,225.6 826.1,227.2 826.7,228.8 827.2,230.4 827.8,232 828.3,233.6 828.8,235.2 829.4,236.8 829.9,238.4 830.5,240 831,241.6 831.5,243.2 832,244.8 832.6,246.4 833.1,248.1 833.6,249.7 834.2,251.3 834.7,252.9 835.2,254.5 835.7,256.1 836.2,257.7 836.8,259.4 837.3,261 837.8,262.6 838.3,264.2 838.8,265.8 839.3,267.4 839.9,269.1 840.4,270.7 840.9,272.3 841.4,273.9 841.9,275.5 842.4,277.2 842.9,278.8 843.4,280.4 843.9,282 844.4,283.6 845,285.3 845.5,286.9 846,288.5 846.5,290.1 847,291.7 847.5,293.4 848,295 848.5,296.6 849,298.2 849.5,299.8 850,301.4 850.5,303.1 851,304.7 851.5,306.3 852,307.9 852.5,309.5 853,311.1 853.5,312.7 854,314.4 854.5,316 855,317.6 855.5,319.2 856,320.8 856.5,322.4 857,324 857.5,325.7 858,327.3 858.5,328.9 859,330.5 859.5,332.1 860,333.7 860.5,335.3 861,336.9 861.5,338.5 862,340.2 862.4,341.8 862.9,343.4 863.4,345 863.9,346.6 864.4,348.2 864.9,349.8 865.4,351.4 865.9,353 866.4,354.6 866.9,356.3 867.4,357.9 867.9,359.5 868.4,361.1 868.9,362.7 869.4,364.3 869.9,365.9 870.4,367.5 870.9,369.1 871.4,370.7 871.9,372.3 872.4,373.9 872.9,375.5 873.4,377.2 873.9,378.8 874.4,380.4 874.9,382 875.4,383.6 875.9,385.2 876.4,386.8 876.9,388.4 877.4,390 877.9,391.6 878.4,393.2 878.9,394.8 879.4,396.4 879.9,398 880.4,399.6 880.9,401.2 881.4,402.9 881.9,404.5 882.4,406.1 882.9,407.7 883.4,409.3 883.9,410.9 884.4,412.5 885,414.1 885.5,415.7 886,417.3 886.5,418.9 887,420.5 887.5,422.1 888,423.7 888.5,425.3 889,426.9 889.5,428.5 890.1,430.2 890.6,431.8 891.1,433.4 891.6,435 892.1,436.6 892.6,438.2 893.2,439.8 893.7,441.4 894.2,443 894.7,444.6 895.2,446.2 895.8,447.8 896.3,449.4 896.8,451 897.3,452.6 897.8,454.3 898.4,455.9 898.9,457.5 899.4,459.1 899.9,460.7 900.5,462.3 901,463.9 901.5,465.5 902.1,467.1 902.6,468.7 903.1,470.3 903.7,471.9 904.2,473.6 904.7,475.2 905.3,476.8 905.8,478.4 906.4,480 906.9,481.6 907.4,483.2 908,484.8 908.5,486.4 909.1,488 909.6,489.7 910.2,491.3 910.7,492.9 911.2,494.5 911.8,496.1 912.3,497.7 912.9,499.3 913.5,500.9 914,502.6 914.6,504.2 915.1,505.8 915.7,507.4 916.2,509 916.8,510.6 917.4,512.2 917.9,513.8 918.5,515.4 919.1,517.1 919.7,518.7 920.2,520.3 920.8,521.9 921.4,523.5 922,525.1 922.6,526.7 923.2,528.3 923.8,529.9 924.4,531.5 925,533.1 925.7,534.7 926.3,536.3 926.9,537.9 927.5,539.5 928.2,541.1 928.8,542.6 929.5,544.2 930.1,545.8 930.8,547.4 931.5,549 932.2,550.5 932.8,552.1 933.5,553.7 934.2,555.2 934.9,556.8 935.6,558.4 936.4,559.9 937.1,561.5 937.8,563 938.6,564.5 939.3,566.1 940.1,567.6 940.9,569.2 941.7,570.7 942.5,572.2 943.3,573.7 944.1,575.2 944.9,576.8 945.7,578.3 946.6,579.8 947.4,581.3 948.3,582.8 949.1,584.2 950,585.7 950.9,587.2 951.8,588.7 952.7,590.2 953.7,591.6 954.6,593.1 955.5,594.5 956.5,596 957.5,597.4 958.4,598.9 959.4,600.3 960.4,601.8 961.4,603.2 962.4,604.6 963.4,606 964.4,607.5 965.5,608.9 966.5,610.3 967.6,611.7 968.6,613.1 969.7,614.5 970.7,615.9 971.8,617.3 972.9,618.7 974,620.1 975.1,621.5 976.2,622.9 977.3,624.2 978.4,625.6 979.5,627 980.6,628.4 981.7,629.8 982.9,631.1 984,632.5 985.1,633.9 986.3,635.2 987.4,636.6 988.6,638 989.7,639.3 990.9,640.7 992,642 993.2,643.4 994.4,644.7 995.5,646.1 996.7,647.5 997.9,648.8 999.1,650.2 1000.2,651.5 1001.4,652.9 1002.6,654.2 1003.8,655.6 1005,656.9 1006.2,658.3 1007.3,659.6 1008.5,660.9 1009.7,662.3 1010.9,663.6 1012.1,665 1013.3,666.3 1014.5,667.7 1015.7,669 1016.8,670.4 1018,671.7 1019.2,673.1 1020.4,674.4 1021.6,675.8 1022.8,677.1 1023.9,678.5 1025.1,679.8 1026.3,681.2 1027.5,682.5 1028.7,683.9 1029.8,685.2 1031,686.6 1032.2,687.9 1033.4,689.3 1034.6,690.6 1035.7,692 1036.9,693.3 1038.1,694.7 1039.3,696 1040.4,697.4 1041.6,698.7 1042.8,700.1 1044,701.4 1045.1,702.8 1046.3,704.2 1047.5,705.5 1048.7,706.9 1049.8,708.2 1051,709.6 1052.2,710.9 1053.3,712.3 1054.5,713.6 1055.7,715 1056.8,716.4 1058,717.7 1059.1,719.1 1060.3,720.4 1061.5,721.8 1062.6,723.2 1063.8,724.5 1064.9,725.9 1066.1,727.2 1067.3,728.6 1068.4,730 1069.6,731.3 1070.7,732.7 1071.9,734.1 1073,735.4 1074.2,736.8 1075.3,738.1 1076.5,739.5 1077.6,740.9 1078.7,742.2 1079.9,743.6 1081,745 1082.2,746.3 1083.3,747.7 1084.5,749.1 1085.6,750.5 1086.7,751.8 1087.9,753.2 1089,754.6 1090.1,755.9 1091.3,757.3 1092.4,758.7 1093.5,760.1 1094.6,761.4 1095.8,762.8 1096.9,764.2 1098,765.6 1099.1,766.9 1100.3,768.3 1101.4,769.7 1102.5,771.1 1103.6,772.4 1104.7,773.8 1105.8,775.2 1106.9,776.6 1108,778 1109.2,779.3 1110.3,780.7 1111.4,782.1 1112.5,783.5 1113.6,784.9 1114.7,786.3 1115.8,787.7 1116.9,789 1118,790.4 1119,791.8 1120.1,793.2 1121.2,794.6 1122.3,796 1123.4,797.4 1124.5,798.8 1125.6,800.2 1126.6,801.5 1127.7,802.9 1128.8,804.3 1129.9,805.7 1131,807.1 1132,808.5 1133.1,809.9 1134.2,811.3 1135.3,812.7 1136.3,814.1 1137.4,815.5 1138.5,816.9 1139.5,818.3 1140.6,819.7 1141.7,821.1 1142.7,822.5 1143.8,823.9 1144.8,825.3 1145.9,826.7 1147,828.1 1148,829.5 1149.1,830.9 1150.1,832.3 1151.2,833.7 1152.3,835.1 1153.3,836.5 1154.4,837.9 1155.4,839.3 1156.5,840.8 1157.5,842.2 1158.6,843.6 1159.7,845 1160.7,846.4 1161.8,847.8 1162.8,849.2 1163.9,850.6 1164.9,852 1166,853.4 1167,854.8 1168.1,856.2 1169.1,857.7 1170.2,859.1 1171.3,860.5 1172.3,861.9 1173.4,863.3 1174.4,864.7 1175.5,866.1 1176.5,867.5 1177.6,868.9 1178.6,870.3 1179.7,871.8 1180.8,873.2 1181.8,874.6 1182.9,876 1183.9,877.4 1185,878.8 1186.1,880.2 1187.1,881.6 1188.2,883.1 1189.2,884.5 1190.3,885.9 1191.4,887.3 1192.4,888.7 1193.5,890.1 1194.6,891.5 1195.6,893 1196.7,894.4 1197.8,895.8 1198.9,897.2 1199.9,898.6 1201,900 1202.1,901.4 1203.2,902.8 1204.2,904.3 1205.3,905.7 1206.4,907.1 1207.5,908.5 1208.6,909.9 1209.7,911.3 1210.7,912.7 1211.8,914.1 1212.9,915.6 1214,917 1215.1,918.4 1216.2,919.8 1217.3,921.2 1218.4,922.6 1219.5,924 1220.6,925.4 1221.7,926.8 1222.8,928.3 1224,929.7 1225.1,931.1 1226.2,932.5 1227.3,933.9 1228.4,935.3 1229.6,936.7 1230.7,938.1 1231.8,939.5 1233,940.8 1234.1,942.2 1235.3,943.6 1236.4,945 1237.6,946.4 1238.8,947.8 1239.9,949.1 1241.1,950.5 1242.3,951.9 1243.4,953.2 1244.6,954.6 1245.8,956 1247,957.3 1248.2,958.7 1249.4,960 1250.6,961.4 1251.9,962.7 1253.1,964 1254.3,965.4 1255.6,966.7 1256.8,968 1258,969.3 1259.3,970.6 1260.6,971.9 1261.8,973.2 1263.1,974.5 1264.4,975.8 1265.7,977.1 1267,978.4 1268.3,979.7 1269.6,980.9 1270.9,982.2 1272.3,983.4 1273.6,984.7 1274.9,985.9 1276.3,987.2 1277.6,988.4 1279,989.6 1280.4,990.8 1281.8,992 1283.2,993.2 1284.6,994.4 1286,995.6 1287.4,996.8 1288.8,997.9 1290.3,999.1 1291.7,1000.2 1293.2,1001.4 1294.7,1002.5 1296.1,1003.7 1297.6,1004.8 1299.1,1005.9 1300.6,1007 1302.2,1008.1 1303.7,1009.2 1305.2,1010.2 1306.8,1011.3 1308.4,1012.4 1309.9,1013.4 1311.5,1014.4 1313.1,1015.5 1314.7,1016.5 1316.3,1017.5 1317.9,1018.5 1319.5,1019.5 1321.2,1020.4 1322.8,1021.4 1324.5,1022.4 1326.1,1023.3 1327.8,1024.2 1329.5,1025.2 1331.1,1026.1 1332.8,1027 1334.5,1027.9 1336.2,1028.7 1337.9,1029.6 1339.7,1030.4 1341.4,1031.3 1343.1,1032.1 1344.9,1032.9 1346.6,1033.7 1348.4,1034.5 1350.1,1035.3 1351.9,1036.1 1353.7,1036.8 1355.5,1037.6 1357.3,1038.3 1359.1,1039 1360.9,1039.7 1362.7,1040.4 1364.5,1041 1366.3,1041.7 1368.1,1042.3 1370,1043 1371.8,1043.6 1373.6,1044.2 1375.5,1044.8 1377.3,1045.3 1379.2,1045.9 1381,1046.4 1382.9,1047 1384.8,1047.5 1386.6,1048 1388.5,1048.5 1390.4,1049 1392.3,1049.5 1394.2,1049.9 1396.1,1050.4 1398,1050.8 1399.9,1051.2 1401.8,1051.7 1403.7,1052.1 1405.6,1052.5 1407.5,1052.9 1409.5,1053.2 1411.4,1053.6 1413.3,1054 1415.3,1054.3 1417.2,1054.6 1419.1,1055 1421.1,1055.3 1423,1055.6 1425,1055.9 1426.9,1056.2 1428.9,1056.5 1430.9,1056.8 1432.8,1057.1 1434.8,1057.3 1436.8,1057.6 1438.7,1057.8 1440.7,1058.1 1442.7,1058.3 1444.7,1058.6 1446.7,1058.8 1448.6,1059 1450.6,1059.2 1452.6,1059.4 1454.6,1059.6 1456.6,1059.8 1458.6,1060 1460.6,1060.2 1462.6,1060.4 1464.6,1060.6 1466.6,1060.8 1468.6,1061 1470.6,1061.1 1472.6,1061.3 1474.6,1061.5 1476.6,1061.6 1478.6,1061.8 1480.6,1061.9 1482.6,1062.1 1484.6,1062.3 1486.7,1062.4 1488.7,1062.6 1490.7,1062.7 1492.7,1062.9 1494.7,1063 1496.7,1063.2 1498.7,1063.3 1500.8,1063.5 1502.8,1063.6 1504.8,1063.7 1506.8,1063.9 1508.8,1064 1510.8,1064.2 1512.9,1064.3 1514.9,1064.5 1516.9,1064.6 1518.9,1064.8 1520.9,1064.9 1522.9,1065.1 1524.9,1065.3 1526.9,1065.4 1529,1065.6 1531,1065.8 1533,1065.9 1535,1066.1 1537,1066.3 1539,1066.5 1541,1066.6 1543,1066.8 1545,1067 1547,1067.2 1549,1067.4 1551,1067.6 1553,1067.8 1555,1068.1 1557,1068.3 1559,1068.5 1561,1068.7 1562.9,1069 1564.9,1069.2 1566.9,1069.5 1568.9,1069.7 1570.9,1070 1572.8,1070.3 1574.8,1070.6 1576.8,1070.9 1578.7,1071.2 1580.7,1071.5 1582.7,1071.8 1584.6,1072.1 1586.6,1072.4 1588.5,1072.7 1590.5,1073.1 1592.4,1073.4 1594.4,1073.8 1596.3,1074.1 1598.3,1074.5 1600.2,1074.8 1602.2,1075.2 1604.1,1075.5 1606.1,1075.9 1608,1076.3 1609.9,1076.7 1611.9,1077.1 1613.8,1077.4 1615.7,1077.8 1617.7,1078.2 1619.6,1078.6 1621.5,1079 1623.5,1079.4 1625.4,1079.8 1627.3,1080.2 1629.3,1080.6 1631.2,1081 1633.1,1081.4 1635.1,1081.8 1637,1082.2 1638.9,1082.6 1640.9,1083.1 1642.8,1083.5 1644.7,1083.9 1646.6,1084.3 1648.6,1084.7 1650.5,1085.1 1652.4,1085.5 1654.4,1085.9 1656.3,1086.3 1658.2,1086.7 1660.2,1087.1 1662.1,1087.5 1664.1,1087.9 1666,1088.2 1667.9,1088.6 1669.9,1089 1671.8,1089.4 1673.8,1089.8 1675.7,1090.1 1677.7,1090.5 1679.6,1090.9 1681.6,1091.2 1683.5,1091.6 1685.5,1091.9 1687.4,1092.3 1689.4,1092.6 1691.3,1092.9 1693.3,1093.2 1695.3,1093.6 1697.2,1093.9 1699.2,1094.2 1701.2,1094.5 1703.2,1094.8 1705.1,1095.1 1707.1,1095.3 1709.1,1095.6 1711.1,1095.9 1713.1,1096.1 1715.1,1096.4 1717,1096.7 1719,1096.9 1721,1097.2 1723,1097.4 1725,1097.7 1727,1097.9 1729,1098.1 1731,1098.4 1733,1098.6 1734.9,1098.8 1736.9,1099.1 1738.9,1099.3 1740.9,1099.5 1742.9,1099.7 1744.9,1100 1746.8,1100.2 1748.8,1100.4 1750.8,1100.7 1752.8,1100.9 1754.7,1101.1 1756.7,1101.3 1758.7,1101.4 1760.7,1101.5 1762.7,1101.5 1764.7,1101.3 1766.7,1101.1 1768.8,1100.8 1770.8,1100.6 1772.8,1100.3 1774.8,1100.3 1776.7,1100.3 1778.6,1100.6 1780.4,1101.1 1782.2,1101.7 1784,1102.4 1785.7,1103.2 1787.4,1104.1 1789.1,1105 1790.8,1106 1792.5,1106.9 1794.2,1107.9 1795.8,1108.8 1797.5,1109.8 1799.2,1110.7 1800.8,1111.6 1802.5,1112.6 1804.1,1113.5 1805.8,1114.5 1807.4,1115.4 1809.1,1116.3 1810.7,1117.3 1812.4,1118.2 1814,1119.1 1815.7,1120 1817.3,1121 1819,1121.9 1820.7,1122.8 1822.3,1123.7 1824,1124.6 1825.6,1125.6 1827.3,1126.5 1829,1127.4 1830.7,1128.3 1832.3,1129.2 1834,1130.1 1835.7,1131 1837.4,1131.9 1839.1,1132.8 1840.8,1133.7 1842.5,1134.5 1844.2,1135.4 1845.9,1136.3 1847.6,1137.2 1849.3,1138 1851,1138.9 1852.7,1139.8 1854.4,1140.6 1856.2,1141.5 1857.9,1142.3 1859.6,1143.2 1861.4,1144 1863.1,1144.8 1864.8,1145.7 1866.6,1146.5 1868.3,1147.3 1870.1,1148.1 1871.9,1148.9 1873.6,1149.7 1875.4,1150.5 1877.1,1151.3 1878.9,1152.1 1880.7,1152.9 1882.5,1153.7 1884.2,1154.4 1886,1155.2 1887.8,1155.9 1889.6,1156.7 1891.4,1157.4 1893.2,1158.2 1895,1158.9 1896.8,1159.6 1898.6,1160.3 1900.4,1161.1 1902.2,1161.8 1904,1162.5 1905.9,1163.1 1907.7,1163.8 1909.5,1164.5 1911.3,1165.2 1913.2,1165.8 1915,1166.5 1916.9,1167.1 1918.7,1167.7 1920.6,1168.4 1922.4,1169 1924.3,1169.6 1926.1,1170.2 1928,1170.8 1929.9,1171.4 1931.7,1171.9 1933.6,1172.5 1935.5,1173.1 1937.4,1173.6 1939.3,1174.1 1941.1,1174.7 1943,1175.2 1944.9,1175.7 1946.8,1176.2 1948.7,1176.7 1950.6,1177.2 1952.5,1177.6 1954.5,1178.1 1956.4,1178.6 1958.3,1179 1960.2,1179.4 1962.1,1179.8 1964.1,1180.2 1966,1180.6 1968,1181 1969.9,1181.4 1971.8,1181.8 1973.8,1182.1 1975.7,1182.5 1977.7,1182.8 1979.7,1183.1 1981.6,1183.4 1983.6,1183.7 1985.6,1184 1987.5,1184.3 1989.5,1184.5 1991.5,1184.8 1993.5,1185 1995.5,1185.2 1997.5,1185.4 1999.5,1185.6 2001.5,1185.8 2003.5,1186 2005.5,1186.2 2007.5,1186.3 2009.5,1186.4 2011.5,1186.6 2013.5,1186.7 2015.6,1186.8 2017.6,1186.8 2018.7,1186.9 2020.7,1186.9" stroke="#ff00ff"/>
<path d="M309,59.4 310.4,60.4 312,61.4 313.5,62.5 315.1,63.5 316.6,64.5 318.2,65.6 319.9,66.6 321.5,67.6 323.2,68.5 324.9,69.4 326.6,70.3 328.3,71.2 330.1,72 331.9,72.7 333.6,73.4 335.5,74.1 337.3,74.7 339.1,75.3 341,75.8 342.9,76.3 344.7,76.8 346.6,77.2 348.6,77.6 350.5,78 352.4,78.3 354.4,78.6 356.3,78.9 358.3,79.2 360.3,79.4 362.2,79.7 364.2,79.9 366.2,80.1 368.2,80.3 370.2,80.4 372.2,80.6 374.2,80.7 376.2,80.9 378.2,81 380.2,81.2 382.2,81.3 384.2,81.4 386.3,81.5 388.3,81.7 390.3,81.8 392.3,81.9 394.3,82 396.3,82.2 398.3,82.3 400.3,82.4 402.3,82.5 404.3,82.6 406.3,82.7 408.3,82.8 410.3,82.9 412.3,83 414.3,83.1 416.3,83.2 418.3,83.3 420.3,83.4 422.3,83.5 424.3,83.6 426.3,83.7 428.3,83.8 430.3,83.9 432.3,84 434.3,84.1 436.3,84.2 438.3,84.3 440.3,84.4 442.3,84.4 444.3,84.5 446.3,84.6 448.3,84.7 450.3,84.8 452.3,84.8 454.3,84.9 456.2,85 458.2,85.1 460.2,85.1 462.2,85.2 464.2,85.3 466.2,85.3 468.2,85.4 470.2,85.5 472.2,85.5 474.2,85.6 476.2,85.7 478.2,85.7 480.2,85.8 482.2,85.9 484.2,85.9 486.2,86 488.2,86.1 490.1,86.1 492.1,86.2 494.1,86.2 496.1,86.3 498.1,86.3 500.1,86.4 502.1,86.5 504.1,86.5 506.1,86.6 508.1,86.6 510.1,86.7 512.1,86.7 514.1,86.8 516.1,86.9 518,86.9 520,87 522,87 524,87.1 526,87.1 528,87.2 530,87.2 532,87.3 534,87.3 536,87.4 538,87.4 540,87.5 542,87.5 544,87.6 546,87.6 548,87.7 550,87.7 552,87.8 554,87.9 556,87.9 557.9,88 559.9,88 561.9,88.1 563.9,88.1 565.9,88.2 567.9,88.2 569.9,88.3 571.9,88.3 573.9,88.4 575.9,88.5 577.9,88.5 579.9,88.6 581.9,88.6 583.9,88.7 585.9,88.7 587.9,88.8 589.9,88.9 591.9,88.9 593.9,89 595.9,89.1 597.9,89.1 600,89.2 602,89.2 604,89.3 606,89.4 608,89.4 610,89.5 612,89.6 614,89.7 616,89.7 618,89.8 620,89.9 622,89.9 624,90 626,90.1 628.1,90.2 630.1,90.3 632.1,90.3 634.1,90.4 636.1,90.5 638.1,90.6 640.1,90.7 642.1,90.8 644.1,90.9 646.1,91.1 648.1,91.2 650.1,91.3 652.1,91.4 654.1,91.6 656.1,91.7 658.1,91.9 660.1,92 662.1,92.2 664.1,92.4 666.1,92.5 668.1,92.7 670.1,92.9 672.1,93.1 674.1,93.3 676,93.6 678,93.8 680,94 682,94.3 683.9,94.6 685.9,94.8 687.9,95.1 689.8,95.4 691.8,95.7 693.7,96.1 695.7,96.4 697.6,96.7 699.6,97.1 701.5,97.5 703.4,97.9 705.4,98.3 707.3,98.7 709.2,99.1 711.2,99.5 713.1,100 715,100.5 716.9,101 718.8,101.5 720.7,102 722.6,102.5 724.5,103.1 726.3,103.7 728.2,104.3 730.1,104.9 732,105.5 733.8,106.2 735.7,106.8 737.5,107.5 739.3,108.2 741.1,108.9 743,109.7 744.7,110.4 746.5,111.2 748.3,112 750,112.9 751.7,113.7 753.4,114.6 755.1,115.5 756.7,116.5 758.3,117.4 759.9,118.4 761.5,119.4 763,120.4 764.5,121.5 766,122.5 767.5,123.6 768.9,124.8 770.3,125.9 771.7,127.1 773,128.3 774.4,129.5 775.7,130.7 776.9,131.9 778.2,133.2 779.4,134.5 780.7,135.8 781.9,137.1 783,138.4 784.2,139.8 785.3,141.2 786.4,142.5 787.5,143.9 788.6,145.3 789.6,146.8 790.7,148.2 791.7,149.6 792.7,151.1 793.6,152.6 794.6,154.1 795.5,155.5 796.5,157 797.4,158.6 798.3,160.1 799.2,161.6 800,163.1 800.9,164.7 801.7,166.2 802.6,167.8 803.4,169.3 804.2,170.9 805,172.4 805.8,174 806.5,175.6 807.3,177.1 808.1,178.7 808.8,180.3 809.5,181.9 810.2,183.4 811,185 811.7,186.6 812.4,188.2 813,189.8 813.7,191.3 814.4,192.9 815.1,194.5 815.7,196.1 816.4,197.6 817,199.2 817.6,200.8 818.3,202.4 818.9,203.9 819.5,205.5 820.1,207.1 820.7,208.7 821.3,210.3 821.9,211.8 822.5,213.4 823.1,215 823.7,216.6 824.2,218.2 824.8,219.7 825.4,221.3 825.9,222.9 826.5,224.5 827,226.1 827.6,227.7 828.1,229.2 828.7,230.8 829.2,232.4 829.7,234 830.3,235.6 830.8,237.2 831.3,238.8 831.9,240.4 832.4,242 832.9,243.6 833.4,245.2 833.9,246.8 834.4,248.4 835,250 835.5,251.6 836,253.2 836.5,254.8 837,256.4 837.5,258 838,259.6 838.5,261.2 839,262.8 839.5,264.4 840,266 840.5,267.6 841,269.2 841.5,270.8 842,272.5 842.5,274.1 842.9,275.7 843.4,277.3 843.9,278.9 844.4,280.5 844.9,282.1 845.4,283.8 845.8,285.4 846.3,287 846.8,288.6 847.3,290.2 847.8,291.9 848.2,293.5 848.7,295.1 849.2,296.7 849.6,298.4 850.1,300 850.6,301.6 851.1,303.2 851.5,304.9 852,306.5 852.4,308.1 852.9,309.7 853.4,311.4 853.8,313 854.3,314.6 854.8,316.3 855.2,317.9 855.7,319.5 856.1,321.1 856.6,322.8 857,324.4 857.5,326 858,327.7 858.4,329.3 858.9,330.9 859.3,332.6 859.8,334.2 860.2,335.8 860.7,337.5 861.1,339.1 861.6,340.7 862,342.4 862.5,344 862.9,345.6 863.4,347.3 863.8,348.9 864.3,350.5 864.7,352.2 865.2,353.8 865.6,355.4 866.1,357.1 866.5,358.7 866.9,360.3 867.4,362 867.8,363.6 868.3,365.2 868.7,366.9 869.2,368.5 869.6,370.1 870.1,371.8 870.5,373.4 870.9,375 871.4,376.7 871.8,378.3 872.3,379.9 872.7,381.6 873.2,383.2 873.6,384.8 874.1,386.4 874.5,388.1 874.9,389.7 875.4,391.3 875.8,393 876.3,394.6 876.7,396.2 877.2,397.8 877.6,399.5 878.1,401.1 878.5,402.7 878.9,404.3 879.4,406 879.8,407.6 880.3,409.2 880.7,410.8 881.2,412.5 881.6,414.1 882.1,415.7 882.5,417.3 883,418.9 883.4,420.6 883.9,422.2 884.3,423.8 884.8,425.4 885.2,427 885.7,428.6 886.2,430.3 886.6,431.9 887.1,433.5 887.5,435.1 888,436.7 888.4,438.3 888.9,439.9 889.3,441.6 889.8,443.2 890.3,444.8 890.7,446.4 891.2,448 891.6,449.6 892.1,451.2 892.6,452.8 893,454.5 893.5,456.1 893.9,457.7 894.4,459.3 894.9,460.9 895.3,462.5 895.8,464.1 896.3,465.7 896.7,467.3 897.2,468.9 897.7,470.5 898.1,472.2 898.6,473.8 899.1,475.4 899.5,477 900,478.6 900.5,480.2 900.9,481.8 901.4,483.4 901.9,485 902.3,486.6 902.8,488.3 903.3,489.9 903.8,491.5 904.2,493.1 904.7,494.7 905.2,496.3 905.7,497.9 906.1,499.5 906.6,501.1 907.1,502.8 907.6,504.4 908,506 908.5,507.6 909,509.2 909.5,510.8 909.9,512.5 910.4,514.1 910.9,515.7 911.4,517.3 911.9,518.9 912.3,520.5 912.8,522.2 913.3,523.8 913.8,525.4 914.3,527 914.7,528.6 915.2,530.3 915.7,531.9 916.2,533.5 916.7,535.1 917.2,536.8 917.6,538.4 918.1,540 918.6,541.7 919.1,543.3 919.6,544.9 920.1,546.6 920.6,548.2 921,549.8 921.5,551.5 922,553.1 922.5,554.7 923,556.4 923.5,558 924,559.6 924.5,561.2 925,562.9 925.5,564.5 926,566.1 926.6,567.8 927.1,569.4 927.6,571 928.1,572.7 928.6,574.3 929.2,575.9 929.7,577.5 930.3,579.2 930.8,580.8 931.4,582.4 931.9,584 932.5,585.6 933.1,587.3 933.6,588.9 934.2,590.5 934.8,592.1 935.4,593.7 936,595.3 936.6,596.9 937.2,598.5 937.8,600.1 938.5,601.7 939.1,603.3 939.7,604.8 940.4,606.4 941,608 941.7,609.6 942.4,611.2 943.1,612.7 943.8,614.3 944.5,615.8 945.2,617.4 945.9,619 946.6,620.5 947.3,622 948.1,623.6 948.9,625.1 949.6,626.6 950.4,628.2 951.2,629.7 952,631.2 952.8,632.7 953.6,634.2 954.4,635.7 955.3,637.2 956.1,638.7 957,640.2 957.8,641.7 958.7,643.2 959.6,644.7 960.5,646.1 961.4,647.6 962.3,649.1 963.2,650.5 964.1,652 965.1,653.5 966,654.9 967,656.4 967.9,657.8 968.9,659.3 969.8,660.7 970.8,662.1 971.8,663.6 972.8,665 973.8,666.4 974.8,667.8 975.8,669.3 976.8,670.7 977.9,672.1 978.9,673.5 979.9,674.9 981,676.3 982,677.7 983.1,679.1 984.1,680.5 985.2,681.9 986.3,683.3 987.3,684.7 988.4,686.1 989.5,687.5 990.6,688.9 991.7,690.3 992.8,691.7 993.9,693.1 995,694.4 996.1,695.8 997.2,697.2 998.3,698.6 999.5,700 1000.6,701.3 1001.7,702.7 1002.9,704.1 1004,705.4 1005.1,706.8 1006.3,708.2 1007.4,709.5 1008.6,710.9 1009.7,712.3 1010.9,713.6 1012,715 1013.2,716.4 1014.3,717.7 1015.5,719.1 1016.7,720.4 1017.8,721.8 1019,723.2 1020.2,724.5 1021.3,725.9 1022.5,727.2 1023.7,728.6 1024.8,730 1026,731.3 1027.2,732.7 1028.4,734 1029.5,735.4 1030.7,736.7 1031.9,738.1 1033.1,739.5 1034.2,740.8 1035.4,742.2 1036.6,743.6 1037.7,744.9 1038.9,746.3 1040.1,747.6 1041.3,749 1042.4,750.4 1043.6,751.7 1044.8,753.1 1045.9,754.5 1047.1,755.8 1048.2,757.2 1049.4,758.6 1050.6,759.9 1051.7,761.3 1052.9,762.7 1054,764.1 1055.2,765.4 1056.3,766.8 1057.5,768.2 1058.6,769.6 1059.8,771 1060.9,772.3 1062.1,773.7 1063.2,775.1 1064.3,776.5 1065.5,777.9 1066.6,779.2 1067.7,780.6 1068.9,782 1070,783.4 1071.1,784.8 1072.3,786.2 1073.4,787.6 1074.5,789 1075.6,790.4 1076.8,791.7 1077.9,793.1 1079,794.5 1080.1,795.9 1081.2,797.3 1082.3,798.7 1083.5,800.1 1084.6,801.5 1085.7,802.9 1086.8,804.3 1087.9,805.7 1089,807.1 1090.1,808.5 1091.2,809.9 1092.3,811.3 1093.4,812.7 1094.5,814.1 1095.6,815.5 1096.7,816.9 1097.8,818.3 1098.9,819.7 1099.9,821.1 1101,822.5 1102.1,823.9 1103.2,825.3 1104.3,826.7 1105.4,828.1 1106.4,829.5 1107.5,830.9 1108.6,832.3 1109.7,833.7 1110.7,835.1 1111.8,836.5 1112.9,837.9 1114,839.3 1115,840.8 1116.1,842.2 1117.2,843.6 1118.2,845 1119.3,846.4 1120.3,847.8 1121.4,849.2 1122.5,850.6 1123.5,852 1124.6,853.4 1125.6,854.8 1126.7,856.2 1127.7,857.6 1128.8,859 1129.8,860.5 1130.9,861.9 1131.9,863.3 1133,864.7 1134,866.1 1135.1,867.5 1136.1,868.9 1137.2,870.3 1138.2,871.7 1139.3,873.1 1140.3,874.5 1141.3,876 1142.4,877.4 1143.4,878.8 1144.5,880.2 1145.5,881.6 1146.5,883 1147.6,884.4 1148.6,885.8 1149.7,887.2 1150.7,888.6 1151.7,890 1152.8,891.4 1153.8,892.9 1154.8,894.3 1155.9,895.7 1156.9,897.1 1158,898.5 1159,899.9 1160,901.3 1161.1,902.7 1162.1,904.1 1163.1,905.5 1164.2,906.9 1165.2,908.3 1166.3,909.8 1167.3,911.2 1168.3,912.6 1169.4,914 1170.4,915.4 1171.4,916.8 1172.5,918.2 1173.5,919.6 1174.6,921 1175.6,922.4 1176.6,923.8 1177.7,925.2 1178.7,926.6 1179.8,928 1180.8,929.4 1181.9,930.8 1182.9,932.3 1184,933.7 1185,935.1 1186,936.5 1187.1,937.9 1188.1,939.3 1189.2,940.7 1190.2,942.1 1191.3,943.5 1192.4,944.9 1193.4,946.3 1194.5,947.7 1195.5,949.1 1196.6,950.5 1197.6,951.9 1198.7,953.3 1199.8,954.7 1200.8,956.1 1201.9,957.5 1202.9,958.9 1204,960.3 1205.1,961.7 1206.1,963.1 1207.2,964.5 1208.3,965.9 1209.4,967.3 1210.4,968.7 1211.5,970.1 1212.6,971.5 1213.7,972.9 1214.8,974.2 1215.8,975.6 1216.9,977 1218,978.4 1219.1,979.8 1220.2,981.2 1221.3,982.6 1222.4,984 1223.5,985.4 1224.6,986.8 1225.7,988.2 1226.8,989.5 1227.9,990.9 1229,992.3 1230.1,993.7 1231.2,995.1 1232.3,996.5 1233.4,997.9 1234.6,999.3 1235.7,1000.6 1236.8,1002 1237.9,1003.4 1239.1,1004.8 1240.2,1006.2 1241.3,1007.6 1242.5,1008.9 1243.6,1010.3 1244.7,1011.7 1245.9,1013.1 1247,1014.5 1248.2,1015.8 1249.3,1017.2 1250.5,1018.6 1251.6,1020 1252.8,1021.3 1254,1022.7 1255.1,1024.1 1256.3,1025.5 1257.5,1026.8 1258.6,1028.2 1259.8,1029.6 1261,1030.9 1262.2,1032.3 1263.4,1033.7 1264.6,1035 1265.8,1036.4 1267,1037.8 1268.2,1039.1 1269.4,1040.5 1270.6,1041.9 1271.8,1043.2 1273,1044.6 1274.2,1046 1275.4,1047.3 1276.6,1048.7 1277.9,1050 1279.1,1051.4 1280.3,1052.7 1281.6,1054.1 1282.8,1055.4 1284.1,1056.8 1285.3,1058.1 1286.6,1059.4 1287.9,1060.8 1289.2,1062.1 1290.4,1063.4 1291.7,1064.7 1293,1066 1294.3,1067.3 1295.6,1068.6 1296.9,1069.9 1298.3,1071.2 1299.6,1072.5 1300.9,1073.8 1302.3,1075 1303.6,1076.3 1305,1077.5 1306.3,1078.8 1307.7,1080 1309.1,1081.2 1310.5,1082.4 1311.9,1083.6 1313.3,1084.8 1314.7,1086 1316.1,1087.2 1317.5,1088.3 1319,1089.5 1320.4,1090.6 1321.9,1091.8 1323.4,1092.9 1324.9,1094 1326.4,1095.1 1327.9,1096.2 1329.4,1097.2 1330.9,1098.3 1332.4,1099.4 1334,1100.4 1335.5,1101.4 1337.1,1102.4 1338.7,1103.4 1340.3,1104.4 1341.9,1105.3 1343.5,1106.3 1345.1,1107.2 1346.8,1108.1 1348.4,1109 1350.1,1109.9 1351.8,1110.8 1353.5,1111.6 1355.2,1112.5 1356.9,1113.3 1358.6,1114.1 1360.4,1114.9 1362.1,1115.7 1363.9,1116.4 1365.7,1117.2 1367.4,1117.9 1369.2,1118.6 1371,1119.3 1372.8,1120 1374.7,1120.6 1376.5,1121.3 1378.3,1121.9 1380.2,1122.5 1382,1123.1 1383.9,1123.7 1385.8,1124.3 1387.7,1124.8 1389.5,1125.4 1391.4,1125.9 1393.3,1126.4 1395.2,1126.9 1397.1,1127.4 1399.1,1127.9 1401,1128.3 1402.9,1128.8 1404.8,1129.2 1406.8,1129.6 1408.7,1130 1410.7,1130.4 1412.6,1130.8 1414.6,1131.1 1416.5,1131.4 1418.5,1131.8 1420.4,1132.1 1422.4,1132.4 1424.3,1132.7 1426.3,1133 1428.3,1133.2 1430.3,1133.5 1432.2,1133.7 1434.2,1134 1436.2,1134.2 1438.2,1134.4 1440.2,1134.6 1442.1,1134.8 1444.1,1135 1446.1,1135.2 1448.1,1135.4 1450.1,1135.6 1452.1,1135.7 1454.1,1135.9 1456.1,1136 1458.1,1136.2 1460.1,1136.3 1462.1,1136.5 1464.1,1136.6 1466.1,1136.7 1468.1,1136.9 1470.1,1137 1472.1,1137.1 1474.1,1137.2 1476.1,1137.3 1478.1,1137.5 1480.2,1137.6 1482.2,1137.7 1484.2,1137.8 1486.2,1137.9 1488.2,1138 1490.2,1138.2 1492.2,1138.3 1494.2,1138.4 1496.2,1138.5 1498.2,1138.6 1500.2,1138.8 1502.2,1138.9 1504.2,1139 1506.2,1139.2 1508.2,1139.3 1510.2,1139.4 1512.2,1139.6 1514.2,1139.7 1516.2,1139.9 1518.2,1140 1520.2,1140.2 1522.2,1140.4 1524.2,1140.5 1526.2,1140.7 1528.2,1140.9 1530.2,1141.1 1532.2,1141.2 1534.1,1141.4 1536.1,1141.6 1538.1,1141.8 1540.1,1142 1542.1,1142.2 1544.1,1142.4 1546.1,1142.6 1548,1142.8 1550,1143 1552,1143.2 1554,1143.4 1556,1143.6 1558,1143.9 1559.9,1144.1 1561.9,1144.3 1563.9,1144.5 1565.9,1144.8 1567.8,1145 1569.8,1145.2 1571.8,1145.5 1573.8,1145.7 1575.7,1146 1577.7,1146.2 1579.7,1146.5 1581.7,1146.7 1583.6,1147 1585.6,1147.2 1587.6,1147.5 1589.6,1147.8 1591.5,1148 1593.5,1148.3 1595.5,1148.6 1597.4,1148.9 1599.4,1149.1 1601.4,1149.4 1603.3,1149.7 1605.3,1150 1607.3,1150.3 1609.2,1150.6 1611.2,1150.9 1613.1,1151.2 1615.1,1151.5 1617.1,1151.8 1619,1152.1 1621,1152.4 1623,1152.7 1624.9,1153 1626.9,1153.3 1628.8,1153.6 1630.8,1153.9 1632.8,1154.3 1634.7,1154.6 1636.7,1154.9 1638.6,1155.2 1640.6,1155.6 1642.5,1155.9 1644.5,1156.2 1646.5,1156.6 1648.4,1156.9 1650.4,1157.2 1652.3,1157.6 1654.3,1157.9 1656.2,1158.3 1658.2,1158.6 1660.1,1159 1662.1,1159.3 1664.1,1159.7 1666,1160 1668,1160.4 1669.9,1160.8 1671.9,1161.1 1673.8,1161.5 1675.8,1161.9 1677.7,1162.2 1679.7,1162.6 1681.6,1163 1683.6,1163.3 1685.5,1163.7 1687.5,1164.1 1689.4,1164.5 1691.4,1164.9 1693.3,1165.2 1695.3,1165.6 1697.2,1166 1699.2,1166.4 1701.1,1166.8 1703.1,1167.2 1705,1167.6 1707,1168 1708.9,1168.4 1710.9,1168.8 1712.8,1169.1 1714.8,1169.5 1716.7,1169.9 1718.7,1170.3 1720.6,1170.6 1722.6,1171 1724.5,1171.4 1726.5,1171.7 1728.5,1172 1730.4,1172.4 1732.4,1172.7 1734.3,1173 1736.3,1173.3 1738.3,1173.6 1740.3,1173.8 1742.2,1174.1 1744.2,1174.3 1746.2,1174.5 1748.2,1174.7 1750.2,1174.9 1752.1,1175.1 1754.1,1175.2 1756.1,1175.4 1758.1,1175.5 1760.1,1175.5 1762.1,1175.6 1764.1,1175.6 1766.1,1175.5 1768.1,1175.4 1770.1,1175.3 1772.1,1175.1 1774.1,1175 1776.1,1174.9 1778,1174.8 1780,1174.9 1782,1175 1783.9,1175.2 1785.9,1175.4 1787.8,1175.8 1789.7,1176.2 1791.6,1176.7 1793.5,1177.2 1795.4,1177.8 1797.2,1178.5 1799.1,1179.1 1800.9,1179.8 1802.7,1180.6 1804.6,1181.3 1806.4,1182.1 1808.2,1182.9 1810,1183.6 1811.8,1184.4 1813.6,1185.1 1815.3,1185.9 1817.1,1186.6 1818.9,1187.3 1820.7,1188.1 1822.5,1188.8 1824.3,1189.6 1826.1,1190.3 1827.8,1191 1829.6,1191.8 1831.4,1192.6 1833.1,1193.3 1834.9,1194.1 1836.7,1194.9 1838.4,1195.7 1840.2,1196.4 1842,1197.2 1843.7,1198 1845.5,1198.8 1847.3,1199.6 1849,1200.4 1850.8,1201.1 1852.6,1201.9 1854.3,1202.7 1856.1,1203.5 1857.9,1204.2 1859.7,1205 1861.5,1205.7 1863.3,1206.5 1865.1,1207.2 1866.9,1207.9 1868.7,1208.7 1870.5,1209.4 1872.3,1210.1 1874.1,1210.8 1875.9,1211.5 1877.8,1212.2 1879.6,1212.8 1881.4,1213.5 1883.3,1214.2 1885.1,1214.8 1886.9,1215.5 1888.8,1216.1 1890.6,1216.7 1892.5,1217.4 1894.4,1218 1896.2,1218.6 1898.1,1219.2 1900,1219.8 1901.8,1220.4 1903.7,1220.9 1905.6,1221.5 1907.5,1222.1 1909.4,1222.6 1911.3,1223.2 1913.2,1223.7 1915,1224.2 1916.9,1224.8 1918.9,1225.3 1920.8,1225.8 1922.7,1226.3 1924.6,1226.7 1926.5,1227.2 1928.4,1227.7 1930.3,1228.1 1932.3,1228.6 1934.2,1229 1936.1,1229.4 1938.1,1229.9 1940,1230.3 1941.9,1230.7 1943.9,1231.1 1945.8,1231.5 1947.8,1231.8 1949.7,1232.2 1951.7,1232.6 1953.6,1232.9 1955.6,1233.2 1957.5,1233.6 1959.5,1233.9 1961.4,1234.2 1963.4,1234.5 1965.4,1234.8 1967.3,1235.1 1969.3,1235.3 1971.3,1235.6 1973.3,1235.8 1975.2,1236.1 1977.2,1236.3 1979.2,1236.5 1981.2,1236.7 1983.2,1236.9 1985.2,1237.1 1987.2,1237.3 1989.1,1237.4 1991.1,1237.6 1993.1,1237.7 1995.1,1237.9 1997.1,1238 1999.1,1238.1 2001.1,1238.2 2003.1,1238.3 2005.1,1238.4 2007.1,1238.5 2009.1,1238.5 2011.2,1238.6 2013.2,1238.6 2015.2,1238.6 2017.2,1238.6 2018.6,1238.6 2020.6,1238.6" stroke="#008000"/>
</g>
<path d="M328.4,192.71 H1164.6" stroke-dasharray="17.2 24.1" stroke-width="4.75"/>
<path d="M292.1,661.17 H1218" stroke-dasharray="17.2 24.1" stroke-width="4.75"/>
<path d="M1554.5,209.08 H1711.5" stroke="#000" stroke-width="8.5"/>
<path d="M1554.5,297.58 H1711.5" stroke="#f00" stroke-width="8.5"/>
<path d="M1554.5,386.08 H1711.5" stroke="#00f" stroke-width="8.5"/>
<path d="M1554.5,474.58 H1711.5" stroke="#008080" stroke-width="8.5"/>
<path d="M1554.5,563.08 H1711.5" stroke="#f0f" stroke-width="8.5"/>
<path d="M1554.5,651.58 H1711.5" stroke="#008000" stroke-width="8.5"/>
</g>
<text transform="translate(265.80,1540.30) scale(0.775,1)" font-size="74.3" text-anchor="end" stroke-width="0.60" letter-spacing="1.3">55</text>
<text transform="translate(265.80,1379.43) scale(0.775,1)" font-size="74.3" text-anchor="end" stroke-width="0.60" letter-spacing="1.3">60</text>
<text transform="translate(265.80,1218.57) scale(0.775,1)" font-size="74.3" text-anchor="end" stroke-width="0.60" letter-spacing="1.3">65</text>
<text transform="translate(265.80,1057.70) scale(0.775,1)" font-size="74.3" text-anchor="end" stroke-width="0.60" letter-spacing="1.3">70</text>
<text transform="translate(265.80,896.83) scale(0.775,1)" font-size="74.3" text-anchor="end" stroke-width="0.60" letter-spacing="1.3">75</text>
<text transform="translate(265.80,735.97) scale(0.775,1)" font-size="74.3" text-anchor="end" stroke-width="0.60" letter-spacing="1.3">80</text>
<text transform="translate(265.80,575.10) scale(0.775,1)" font-size="74.3" text-anchor="end" stroke-width="0.60" letter-spacing="1.3">85</text>
<text transform="translate(265.80,414.23) scale(0.775,1)" font-size="74.3" text-anchor="end" stroke-width="0.60" letter-spacing="1.3">90</text>
<text transform="translate(265.80,253.37) scale(0.775,1)" font-size="74.3" text-anchor="end" stroke-width="0.60" letter-spacing="1.3">95</text>
<text transform="translate(265.80,92.50) scale(0.775,1)" font-size="74.3" text-anchor="end" stroke-width="0.60" letter-spacing="1.3">100</text>
<text transform="translate(493.90,1622.30) scale(0.775,1)" font-size="74.3" text-anchor="middle" stroke-width="0.60" letter-spacing="1.3">100</text>
<text transform="translate(748.10,1622.30) scale(0.775,1)" font-size="74.3" text-anchor="middle" stroke-width="0.60" letter-spacing="1.3">200</text>
<text transform="translate(1002.30,1622.30) scale(0.775,1)" font-size="74.3" text-anchor="middle" stroke-width="0.60" letter-spacing="1.3">300</text>
<text transform="translate(1256.50,1622.30) scale(0.775,1)" font-size="74.3" text-anchor="middle" stroke-width="0.60" letter-spacing="1.3">400</text>
<text transform="translate(1510.70,1622.30) scale(0.775,1)" font-size="74.3" text-anchor="middle" stroke-width="0.60" letter-spacing="1.3">500</text>
<text transform="translate(1764.90,1622.30) scale(0.775,1)" font-size="74.3" text-anchor="middle" stroke-width="0.60" letter-spacing="1.3">600</text>
<text transform="translate(2019.10,1622.30) scale(0.775,1)" font-size="74.3" text-anchor="middle" stroke-width="0.60" letter-spacing="1.3">700</text>
<text transform="translate(1161.50,1732.10) scale(0.79,1)" font-size="96.3" text-anchor="middle" stroke-width="1.35">Temperature (°C)</text>
<text transform="translate(138.1,1051.2) rotate(-90) scale(0.79,1)" font-size="95.7" stroke-width="1.34" x="-0.32 109.94 175.32 201.20 266.90 332.91 364.75 396.58 437.22 545.89">Weight (%)</text>
<text transform="translate(1723.70,280.50) scale(0.785,1)" font-size="61.6" text-anchor="start" stroke-width="0.86">C20A</text>
<text transform="translate(1723.70,386.70) scale(0.785,1)" font-size="61.6" text-anchor="start" stroke-width="0.86">C20AM 15</text>
<text transform="translate(1723.70,492.90) scale(0.785,1)" font-size="61.6" text-anchor="start" stroke-width="0.86">C20AM 30</text>
<text transform="translate(1723.70,599.10) scale(0.785,1)" font-size="61.6" text-anchor="start" stroke-width="0.86">C20AM 45</text>
<text transform="translate(1723.70,705.30) scale(0.785,1)" font-size="61.6" text-anchor="start" stroke-width="0.86">C20AM 60</text>
<text transform="translate(1723.70,811.50) scale(0.785,1)" font-size="61.6" text-anchor="start" stroke-width="0.86">C20AM 120</text>
</svg>
</body></html>
